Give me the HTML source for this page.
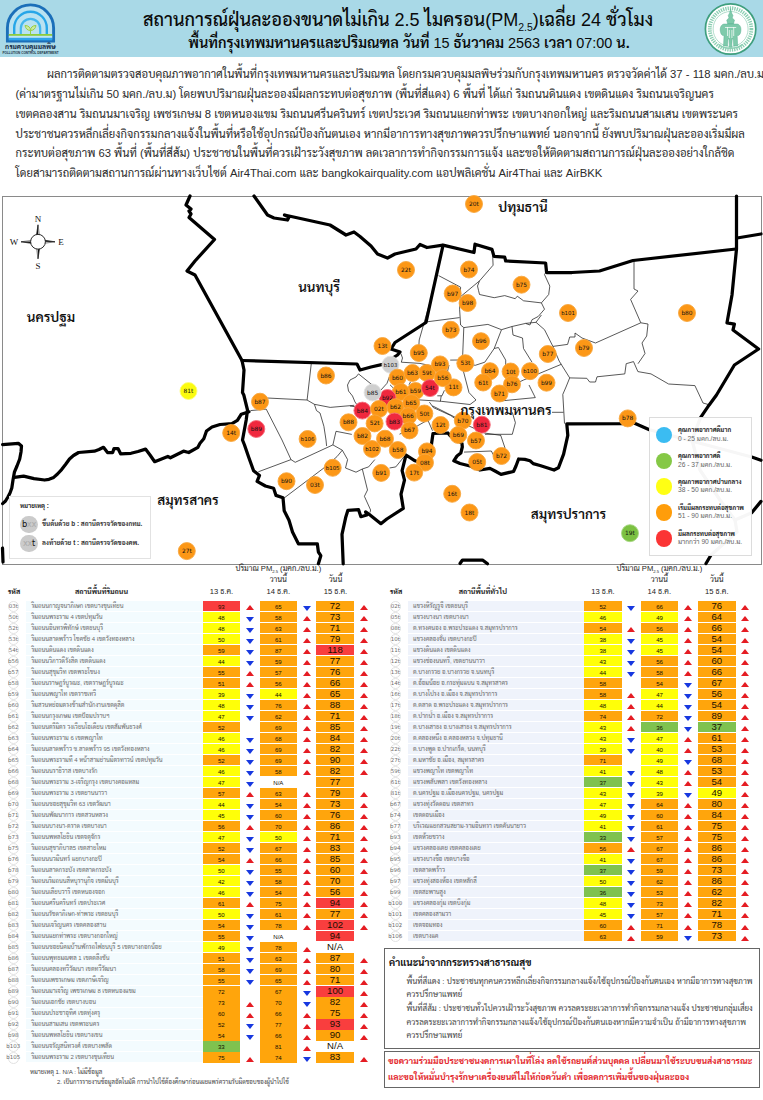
<!DOCTYPE html>
<html lang="th"><head><meta charset="utf-8"><title>PM2.5 Bangkok</title>
<style>
html,body{margin:0;padding:0;background:#fff}
#pg{position:relative;width:763px;height:1100px;overflow:hidden;background:#fff;font-family:"Liberation Sans","Sarabun","Noto Sans Thai","Loma","Noto Sans CJK SC",sans-serif;color:#111}
#pg div{position:absolute;white-space:nowrap;line-height:1}
.hd{left:0;top:0;width:763px;height:57.3px;background:#a9d9e7}
.t1{left:0;width:763px;text-align:center;font-weight:600;color:#0a0a0a}
.n{font-weight:400}
.p{left:15.5px;font-size:11.28px;color:#2b2b2b;letter-spacing:0}
.prov{font-weight:600;font-size:13.4px;color:#111;transform:translate(-50%,-50%)}
.rb{height:10px}
.cd{width:22px;text-align:center;font-family:"DejaVu Sans","Liberation Sans",sans-serif;font-size:5.5px;color:#6e6e6e;height:10px;line-height:10px!important}
.nm{font-size:5.96px;color:#6a6a6a;height:10px;line-height:10px!important}
.c{height:10.3px;line-height:11.2px!important;text-align:center;font-size:6.1px;color:#151000;width:37.5px}
.c3{font-size:9.6px;color:#1a1000;width:38px;line-height:10.6px!important}
.o{background:#ffa50c}.y{background:#ffff08}.r{background:#f93e3e}.gn{background:#7fc24f}.na{background:#fff}
.th{font-weight:bold;font-size:7.15px;color:#222;transform:translate(-50%,-50%)}
.th2{font-size:7.6px;color:#222;transform:translate(-50%,-50%)}
.lg1{font-weight:bold;font-size:6.2px;color:#222}
.lg2{font-size:6.65px;color:#666}
.adv{font-size:7.96px;color:#444}
.red{font-size:8.68px;font-weight:bold;color:#e3262b}
.fn{font-size:6.2px;color:#444}
svg{position:absolute;left:0;top:0}
svg text{font-family:"DejaVu Sans","Liberation Sans",sans-serif}
</style></head><body><div id="pg">
<div class="hd"></div>
<div class="t1" style="top:10.8px;left:16.5px;font-size:18.04px;font-weight:500">สถานการณ์ฝุ่นละอองขนาดไม่เกิน <span class="n">2.5</span> ไมครอน<span class="n">(PM<sub style="font-size:58%;vertical-align:-0.450em;line-height:0">2.5</sub>)</span>เฉลี่ย <span class="n">24</span> ชั่วโมง</div>
<div class="t1" style="top:35.5px;font-size:14.45px;left:27.5px">พื้นที่กรุงเทพมหานครและปริมณฑล วันที่ <span class="n">15</span> ธันวาคม <span class="n">2563</span> เวลา <span class="n">07:00</span> น.</div>
<div class="p" id="p0" style="left:47.0px;top:68.7px">ผลการติดตามตรวจสอบคุณภาพอากาศในพื้นที่กรุงเทพมหานครและปริมณฑล โดยกรมควบคุมมลพิษร่วมกับกรุงเทพมหานคร ตรวจวัดค่าได้ 37 - 118 มคก./ลบ.ม</div>
<div class="p" id="p1" style="left:15.5px;top:88.6px">(ค่ามาตรฐานไม่เกิน 50 มคก./ลบ.ม) โดยพบปริมาณฝุ่นละอองมีผลกระทบต่อสุขภาพ (พื้นที่สีแดง) 6 พื้นที่ ได้แก่ ริมถนนดินแดง เขตดินแดง ริมถนนเจริญนคร</div>
<div class="p" id="p2" style="left:15.5px;top:108.5px">เขตคลองสาน ริมถนนมาเจริญ เพชรเกษม 8 เขตหนองแขม ริมถนนศรีนครินทร์ เขตประเวศ ริมถนนแยกท่าพระ เขตบางกอกใหญ่ และริมถนนสามเสน เขตพระนคร</div>
<div class="p" id="p3" style="left:15.5px;top:128.5px">ประชาชนควรหลีกเลี่ยงกิจกรรมกลางแจ้งในพื้นที่หรือใช้อุปกรณ์ป้องกันตนเอง หากมีอาการทางสุขภาพควรปรึกษาแพทย์ นอกจากนี้ ยังพบปริมาณฝุ่นละอองเริ่มมีผล</div>
<div class="p" id="p4" style="left:15.5px;top:148.4px">กระทบต่อสุขภาพ 63 พื้นที่ (พื้นที่สีส้ม) ประชาชนในพื้นที่ควรเฝ้าระวังสุขภาพ ลดเวลาการทำกิจกรรมการแจ้ง และขอให้ติดตามสถานการณ์ฝุ่นละอองอย่างใกล้ชิด</div>
<div class="p" id="p5" style="left:15.5px;top:168.3px">โดยสามารถติดตามสถานการณ์ผ่านทางเว็บไซต์ Air4Thai.com และ bangkokairquality.com แอปพลิเคชั่น Air4Thai และ AirBKK</div>
<div style="left:1.5px;top:195.8px;width:758.400px;height:367px;border:1.300px solid #8a8a8a;box-sizing:content-box"></div>
<svg width="763" height="1100" viewBox="0 0 763 1100">
<g id="pcd">
<path d="M7.4,41 V28 A23.100,23.100 0 0 1 53.600,28 V41 Z" fill="#b9e2f1" stroke="#1b6fb9" stroke-width="2.900" stroke-linejoin="miter"/>
<path d="M14.200,34.500 V28 A16.300,16.300 0 0 1 46.800,28 V34.500" fill="none" stroke="#27a6e8" stroke-width="2.400"/>
<path d="M20.800,34.500 V28.500 A9.700,9.700 0 0 1 40.200,28.500 V34.500" fill="none" stroke="#43b7ee" stroke-width="2.200"/>
<rect x="8.800" y="36.200" width="43.400" height="1.500" fill="#bfe6f6"/>
<rect x="8.800" y="37.800" width="43.400" height="2.600" fill="#2fa5ea"/>
<rect x="8.800" y="34" width="43.400" height="1.800" fill="#8fcb3e"/>
<path d="M30.500,34.500 V30 M30.500,30.500 C27.500,30.500 25.500,28.500 25,25.500 C28.500,25.500 30.500,27.500 30.500,30.500 M30.500,30.500 C33.500,30.500 35.500,28.500 36,25.500 C32.500,25.500 30.500,27.500 30.500,30.500" fill="#cfe9a0" stroke="#98cf45" stroke-width="1"/>
</g>
<g id="bma">
<circle cx="730.600" cy="29" r="25.200" fill="#ffffff" stroke="#3f9f7e" stroke-width="1.700"/>
<circle cx="730.600" cy="29" r="20.800" fill="none" stroke="#8ccfb3" stroke-width="3.800" stroke-dasharray="1.300 1"/>
<circle cx="730.600" cy="29" r="17.500" fill="#ffffff" stroke="#7cc6a8" stroke-width="0.600"/>
<g fill="#7fcaab" stroke="#4aa888" stroke-width="0.400">
<path d="M730.600,8.500 L731.600,13 L733,15.500 L732.200,18 L734.500,20 L733.500,24 L727.700,24 L726.700,20 L729,18 L728.200,15.500 L729.600,13 Z"/>
<path d="M724,24 C721,24.500 719.500,28 720.500,32 C721,35 723,36 724,35.500 L723.500,46 L727.500,46 L728,39 L729,39 L729.500,47.500 L731.700,47.500 L732.200,39 L733.200,39 L733.700,46 L737.700,46 L737.200,35.500 C738.200,36 740.200,35 740.700,32 C741.700,28 740.200,24.500 737.200,24 Z"/>
</g>
<path d="M727.500,27 L727.500,36 M733.700,27 L733.700,36 M729.300,30 L729.300,38 M731.900,30 L731.900,38 M725,27.500 L736.200,27.500" fill="none" stroke="#ffffff" stroke-width="0.700"/>
<path d="M719,44.500 C724,49.500 737,49.500 742.200,44.500" fill="none" stroke="#8ccfb3" stroke-width="1.600"/>
</g>
<polyline points="438.6,275.6 460.6,287.2 459.6,309.2 460.6,325.0 463.8,327.6 462.7,354.8 462.7,368.5 469.0,392.6 476.0,400.0" fill="none" stroke="#222" stroke-width="0.75" stroke-linejoin="round"/>
<polyline points="492.5,252.0 493.1,265.2 479.5,280.9 460.6,296.6" fill="none" stroke="#222" stroke-width="0.75" stroke-linejoin="round"/>
<polyline points="479.5,280.9 477.5,286.0 478.5,290.3 479.5,294.5 494.2,297.7 504.7,295.6 515.2,298.7 517.3,296.2 523.6,300.8 541.4,302.9 548.7,294.5 549.8,286.1 544.5,274.6 546.0,272.0" fill="none" stroke="#222" stroke-width="0.75" stroke-linejoin="round"/>
<polyline points="541.4,302.9 544.5,309.2 538.2,316.5 532.0,319.7 529.9,325.0 525.6,323.4" fill="none" stroke="#222" stroke-width="0.75" stroke-linejoin="round"/>
<polyline points="427.0,321.8 459.6,317.6" fill="none" stroke="#222" stroke-width="0.75" stroke-linejoin="round"/>
<polyline points="463.8,327.6 487.9,324.4 501.5,329.7 512.0,326.5 525.6,323.4 536.0,322.3 541.4,315.0" fill="none" stroke="#222" stroke-width="0.75" stroke-linejoin="round"/>
<polyline points="501.5,329.7 494.2,348.5 484.8,362.2 475.3,365.3 462.7,363.0" fill="none" stroke="#222" stroke-width="0.75" stroke-linejoin="round"/>
<polyline points="512.0,326.5 513.0,335.0 522.5,338.0 523.5,348.5 532.0,362.2" fill="none" stroke="#222" stroke-width="0.75" stroke-linejoin="round"/>
<polyline points="536.0,322.3 544.5,329.7 552.9,346.4 559.2,361.1 569.7,377.9 566.0,387.0 562.8,394.4 564.5,423.6" fill="none" stroke="#222" stroke-width="0.75" stroke-linejoin="round"/>
<polyline points="552.9,346.4 567.6,344.4 569.7,337.0 575.0,337.0 575.0,333.0 582.0,338.0 595.5,343.0 640.8,322.8 630.6,299.4 638.0,291.0 634.0,289.0 634.0,261.0" fill="none" stroke="#222" stroke-width="0.75" stroke-linejoin="round"/>
<polyline points="561.3,364.3 523.6,380.0 496.3,392.6" fill="none" stroke="#222" stroke-width="0.75" stroke-linejoin="round"/>
<polyline points="569.7,377.9 586.8,378.3 589.7,382.0 595.5,382.0 597.0,376.8 624.8,373.9 626.2,363.7 633.5,361.6 637.9,371.6 651.0,373.9 668.6,384.0 694.9,385.6 699.3,395.0 703.0,403.0 709.0,404.7" fill="none" stroke="#222" stroke-width="0.75" stroke-linejoin="round"/>
<polyline points="640.8,322.8 648.0,324.0 646.7,336.0 642.0,343.0 645.0,353.5 638.0,363.7" fill="none" stroke="#222" stroke-width="0.75" stroke-linejoin="round"/>
<polyline points="494.2,348.5 498.4,347.5 505.7,360.1 505.7,368.0" fill="none" stroke="#222" stroke-width="0.75" stroke-linejoin="round"/>
<polyline points="450.2,360.1 458.5,360.0" fill="none" stroke="#222" stroke-width="0.75" stroke-linejoin="round"/>
<polyline points="311.3,363.4 307.1,400.0" fill="none" stroke="#222" stroke-width="0.75" stroke-linejoin="round"/>
<polyline points="267.3,398.0 307.0,400.0 314.4,404.3 330.2,407.4 354.3,405.3" fill="none" stroke="#222" stroke-width="0.75" stroke-linejoin="round"/>
<polyline points="314.4,404.3 316.5,410.6 320.0,413.0 323.9,426.3 326.0,440.0 326.6,446.0" fill="none" stroke="#222" stroke-width="0.75" stroke-linejoin="round"/>
<polyline points="250.5,410.6 266.2,409.1 282.0,440.0 291.0,459.6 295.2,462.3 332.9,444.9 342.3,450.2 347.6,459.6 345.5,468.0 356.0,472.2 362.3,469.0 368.6,466.9 374.8,459.6" fill="none" stroke="#222" stroke-width="0.75" stroke-linejoin="round"/>
<polyline points="258.3,471.8 291.0,459.6" fill="none" stroke="#222" stroke-width="0.75" stroke-linejoin="round"/>
<polyline points="283.6,498.4 326.6,465.9 337.1,456.5 342.3,450.2" fill="none" stroke="#222" stroke-width="0.75" stroke-linejoin="round"/>
<polyline points="362.3,469.0 367.5,490.0 364.4,496.3 370.6,510.0 370.0,512.5" fill="none" stroke="#222" stroke-width="0.75" stroke-linejoin="round"/>
<polyline points="332.9,444.9 336.0,431.3 351.8,434.4" fill="none" stroke="#222" stroke-width="0.75" stroke-linejoin="round"/>
<polyline points="358.5,373.9 356.0,377.0 350.0,380.0 347.5,385.0 348.5,391.0 352.5,396.0 355.0,402.0 357.4,405.3" fill="none" stroke="#222" stroke-width="0.75" stroke-linejoin="round"/>
<polyline points="358.5,373.9 374.2,386.5" fill="none" stroke="#222" stroke-width="0.75" stroke-linejoin="round"/>
<polyline points="389.5,468.0 395.8,466.9 404.2,456.5" fill="none" stroke="#222" stroke-width="0.75" stroke-linejoin="round"/>
<polyline points="512.3,412.3 515.4,422.7 512.3,434.3 485.0,434.3" fill="none" stroke="#222" stroke-width="0.75" stroke-linejoin="round"/>
<polyline points="552.0,412.3 563.5,412.3" fill="none" stroke="#222" stroke-width="0.75" stroke-linejoin="round"/>
<polyline points="500.7,435.3 505.0,448.0" fill="none" stroke="#222" stroke-width="0.75" stroke-linejoin="round"/>
<polyline points="464.0,452.1 491.3,451.0 494.0,456.0" fill="none" stroke="#222" stroke-width="0.75" stroke-linejoin="round"/>
<polyline points="529.0,385.0 535.3,397.6 500.0,401.0" fill="none" stroke="#222" stroke-width="0.75" stroke-linejoin="round"/>
<polyline points="432.0,295.0 419.2,340.0 418.5,352.0 419.2,361.2" fill="none" stroke="#222" stroke-width="0.75" stroke-linejoin="round"/>
<polyline points="400.9,353.6 402.5,358.0 401.3,362.2 420.0,363.4 432.0,366.0" fill="none" stroke="#222" stroke-width="0.75" stroke-linejoin="round"/>
<polyline points="449.0,365.0 447.5,371.5" fill="none" stroke="#222" stroke-width="0.75" stroke-linejoin="round"/>
<polyline points="389.3,377.0 387.0,383.3 380.7,390.3 374.2,386.5" fill="none" stroke="#222" stroke-width="0.75" stroke-linejoin="round"/>
<polyline points="390.0,384.8 393.3,388.0" fill="none" stroke="#222" stroke-width="0.75" stroke-linejoin="round"/>
<polyline points="410.6,381.7 409.0,384.8" fill="none" stroke="#222" stroke-width="0.75" stroke-linejoin="round"/>
<polyline points="437.3,395.8 442.0,395.8 444.4,390.3" fill="none" stroke="#222" stroke-width="0.75" stroke-linejoin="round"/>
<polyline points="417.6,399.8 441.2,401.3 470.0,404.5 476.0,400.0" fill="none" stroke="#222" stroke-width="0.75" stroke-linejoin="round"/>
<polyline points="441.2,395.8 440.4,401.3" fill="none" stroke="#222" stroke-width="0.75" stroke-linejoin="round"/>
<polyline points="429.4,402.1 433.4,407.6 450.7,415.5 457.0,420.0" fill="none" stroke="#222" stroke-width="0.75" stroke-linejoin="round"/>
<polyline points="350.0,406.0 355.5,406.8" fill="none" stroke="#222" stroke-width="0.75" stroke-linejoin="round"/>
<polyline points="432.5,405.9 442.0,410.6 456.0,417.7" fill="none" stroke="#222" stroke-width="0.75" stroke-linejoin="round"/>
<polyline points="469.0,426.0 484.4,433.0 501.0,435.4" fill="none" stroke="#222" stroke-width="0.75" stroke-linejoin="round"/>
<polyline points="427.8,420.0 432.5,430.7" fill="none" stroke="#222" stroke-width="0.75" stroke-linejoin="round"/>
<polyline points="399.5,434.2 417.2,426.0 427.8,420.0" fill="none" stroke="#222" stroke-width="0.75" stroke-linejoin="round"/>
<polyline points="190.0,196.0 186.0,205.0 191.0,209.0 189.0,211.0 191.0,214.0 189.0,217.5 214.5,239.5 195.0,261.0 187.0,271.0 195.0,275.0 206.0,295.0 242.0,360.5 244.0,370.0 242.5,392.5 243.8,395.0 247.5,410.0 246.2,420.0 242.5,440.0 244.5,445.0 248.8,457.5 253.6,470.7 259.5,475.4 257.1,481.3 265.4,486.0 273.6,488.3 276.0,495.4 283.0,497.8 284.2,510.8 289.0,520.2 292.5,532.0 298.4,543.8 317.3,543.8 318.4,552.0 320.8,555.7 318.4,563.8" fill="none" stroke="#000" stroke-width="3.25" stroke-linejoin="round" stroke-linecap="round"/>
<polyline points="249.0,411.8 241.3,414.2 237.4,420.4 231.9,423.6 220.0,424.5 212.0,427.0 206.5,431.0 203.8,438.8 200.0,443.3 197.9,447.3 188.7,452.5 183.5,451.2 170.4,457.8 167.8,456.5 154.7,461.7 150.0,455.0 145.5,449.1 138.0,451.5 131.0,453.3 120.6,453.8 118.0,448.6 114.0,448.6 112.7,452.5 107.5,452.5 103.5,447.3 99.0,449.5 94.4,451.2 78.6,452.5 73.5,455.5 69.5,459.0 65.5,464.5 61.6,469.6 57.5,474.0 53.7,477.4 49.0,479.3 44.6,480.0 34.0,478.7 23.6,476.1 14.4,477.4" fill="none" stroke="#000" stroke-width="3.25" stroke-linejoin="round" stroke-linecap="round"/>
<polyline points="2.6,444.7 18.3,443.3 21.5,446.0 21.0,452.0 19.7,459.0 17.0,466.0 14.4,472.2 13.0,480.0 11.8,488.0 10.0,493.0 7.9,497.0 5.5,501.0 2.6,503.6" fill="none" stroke="#000" stroke-width="3.25" stroke-linejoin="round" stroke-linecap="round"/>
<polyline points="2.5,548.0 3.0,562.0" fill="none" stroke="#000" stroke-width="3.25" stroke-linejoin="round" stroke-linecap="round"/>
<polyline points="254.0,196.0 267.5,215.0 274.0,218.0 287.5,220.0 289.0,217.0 284.5,215.0 330.0,225.0 346.0,235.0 354.0,232.0 360.0,236.5 371.0,246.0 377.5,254.0 387.5,258.0 395.0,254.0 416.0,249.0 420.0,244.5 427.0,247.5 443.0,245.2 474.0,252.5 475.0,244.2 492.0,249.4 494.0,256.4 504.7,257.2 505.7,261.0 545.6,263.0 546.6,272.5 572.0,272.5 599.5,271.0 633.0,260.5 736.0,249.0" fill="none" stroke="#000" stroke-width="3.25" stroke-linejoin="round" stroke-linecap="round"/>
<polyline points="443.0,245.5 432.0,295.0 426.0,322.5 395.0,342.5 391.0,349.0 400.0,352.0 397.5,355.0 382.6,364.4 371.0,367.0 360.0,370.0 357.0,364.0 242.0,360.5" fill="none" stroke="#000" stroke-width="3.25" stroke-linejoin="round" stroke-linecap="round"/>
<polyline points="736.5,196.0 736.5,249.0 732.0,295.0 727.0,322.8 734.4,324.2 733.0,330.0 758.6,349.0 734.4,365.0 716.5,395.0 709.0,405.2 700.5,417.6 692.0,440.0 700.0,470.0 720.0,500.0 735.0,520.0 737.0,532.0 711.0,555.0 706.0,563.5" fill="none" stroke="#000" stroke-width="3.25" stroke-linejoin="round" stroke-linecap="round"/>
<polyline points="737.0,238.0 761.0,234.0" fill="none" stroke="#000" stroke-width="3.25" stroke-linejoin="round" stroke-linecap="round"/>
<polyline points="735.0,520.0 751.7,512.7 761.0,501.4" fill="none" stroke="#000" stroke-width="3.25" stroke-linejoin="round" stroke-linecap="round"/>
<polyline points="761.0,460.3 751.7,457.0 649.4,429.7 633.5,422.8 621.8,423.6 566.8,423.8 567.8,435.3 563.6,454.2 558.4,467.8 554.0,470.0 540.0,465.5 533.2,463.6 530.0,460.8 524.8,459.4 518.6,459.0 516.0,466.0 513.5,471.5 501.0,474.3 495.0,471.0 490.0,468.4 480.0,470.0 470.0,466.0 460.0,463.5 453.8,460.8 457.0,456.0 460.8,453.0 462.3,447.0 462.0,443.6 458.8,441.0 450.0,435.5 447.9,433.0 433.0,433.5 431.5,444.0 431.0,455.0 425.0,464.0 415.0,460.8 406.0,455.0 402.1,470.7 404.5,480.1 401.0,494.2 403.3,508.4 386.8,519.0 380.9,523.7 369.1,514.3 365.6,511.9 366.8,515.0 360.9,516.7 358.5,509.6 347.9,510.3 345.6,517.8 342.0,534.3 343.2,563.8" fill="none" stroke="#000" stroke-width="3.25" stroke-linejoin="round" stroke-linecap="round"/>
<polyline points="460.0,563.5 462.5,560.0 482.5,560.0 487.5,563.8" fill="none" stroke="#000" stroke-width="3.25" stroke-linejoin="round" stroke-linecap="round"/>
<g stroke="#111" stroke-width="0.45" stroke-linejoin="miter">
<path d="M38.0,224.8 l1.500,10.500 l-3,0 z M38.0,258.8 l1.500,-10.500 l-3,0 z M21.0,241.8 l10.500,-1.500 l0,3 z M55.0,241.8 l-10.500,-1.500 l0,3 z" fill="#fff"/>
<path d="M38.0,224.8 l0,10.500 l-1.500,0 z M38.0,258.8 l0,-10.500 l1.500,0 z M21.0,241.8 l10.500,0 l0,1.500 z M55.0,241.8 l-10.500,0 l0,-1.500 z" fill="#111"/>
<circle cx="38.0" cy="241.75" r="7.400" fill="#fff" stroke-width="0.9"/>
</g>
<g font-size="9" text-anchor="middle" fill="#111"><text style="font-family:'Liberation Serif',serif" x="38" y="222.300">N</text><text style="font-family:'Liberation Serif',serif" x="38" y="268.800">S</text><text style="font-family:'Liberation Serif',serif" x="14" y="245">W</text><text style="font-family:'Liberation Serif',serif" x="61" y="245">E</text></g>
<circle cx="474.0" cy="204.0" r="8.5" fill="#fc9716" stroke="#f7a740" stroke-width="0.9"/>
<text x="474.0" y="206.0" font-size="5.9" text-anchor="middle" fill="#111">20t</text>
<circle cx="406.0" cy="270.0" r="8.5" fill="#fc9716" stroke="#f7a740" stroke-width="0.9"/>
<text x="406.0" y="272.0" font-size="5.9" text-anchor="middle" fill="#111">22t</text>
<circle cx="469.0" cy="269.5" r="8.5" fill="#fc9716" stroke="#f7a740" stroke-width="0.9"/>
<text x="469.0" y="271.5" font-size="5.9" text-anchor="middle" fill="#111">b74</text>
<circle cx="521.5" cy="284.7" r="8.5" fill="#fc9716" stroke="#f7a740" stroke-width="0.9"/>
<text x="521.5" y="286.7" font-size="5.9" text-anchor="middle" fill="#111">b75</text>
<circle cx="452.7" cy="293.5" r="8.5" fill="#fc9716" stroke="#f7a740" stroke-width="0.9"/>
<text x="452.7" y="295.5" font-size="5.9" text-anchor="middle" fill="#111">b97</text>
<circle cx="467.6" cy="303.0" r="8.5" fill="#fc9716" stroke="#f7a740" stroke-width="0.9"/>
<text x="467.6" y="305.0" font-size="5.9" text-anchor="middle" fill="#111">b98</text>
<circle cx="568.0" cy="313.0" r="8.5" fill="#fc9716" stroke="#f7a740" stroke-width="0.9"/>
<text x="568.0" y="315.0" font-size="5.4" text-anchor="middle" fill="#111">b101</text>
<circle cx="687.0" cy="313.0" r="8.5" fill="#fc9716" stroke="#f7a740" stroke-width="0.9"/>
<text x="687.0" y="315.0" font-size="5.9" text-anchor="middle" fill="#111">b80</text>
<circle cx="450.8" cy="329.8" r="8.5" fill="#fc9716" stroke="#f7a740" stroke-width="0.9"/>
<text x="450.8" y="331.8" font-size="5.9" text-anchor="middle" fill="#111">b73</text>
<circle cx="481.0" cy="341.2" r="8.5" fill="#fc9716" stroke="#f7a740" stroke-width="0.9"/>
<text x="481.0" y="343.2" font-size="5.9" text-anchor="middle" fill="#111">b96</text>
<circle cx="382.5" cy="346.0" r="8.5" fill="#fc9716" stroke="#f7a740" stroke-width="0.9"/>
<text x="382.5" y="348.0" font-size="5.9" text-anchor="middle" fill="#111">13t</text>
<circle cx="418.8" cy="353.0" r="8.5" fill="#fc9716" stroke="#f7a740" stroke-width="0.9"/>
<text x="418.8" y="355.0" font-size="5.9" text-anchor="middle" fill="#111">b95</text>
<circle cx="390.5" cy="364.7" r="8.5" fill="#cfcfcf" stroke="#e2e2e2" stroke-width="0.9"/>
<text x="390.5" y="366.7" font-size="5.4" text-anchor="middle" fill="#111">b103</text>
<circle cx="465.3" cy="363.2" r="8.5" fill="#fc9716" stroke="#f7a740" stroke-width="0.9"/>
<text x="465.3" y="365.2" font-size="5.9" text-anchor="middle" fill="#111">53t</text>
<circle cx="547.8" cy="354.0" r="8.5" fill="#fc9716" stroke="#f7a740" stroke-width="0.9"/>
<text x="547.8" y="356.0" font-size="5.9" text-anchor="middle" fill="#111">b77</text>
<circle cx="584.0" cy="348.0" r="8.5" fill="#fc9716" stroke="#f7a740" stroke-width="0.9"/>
<text x="584.0" y="350.0" font-size="5.9" text-anchor="middle" fill="#111">b79</text>
<circle cx="397.5" cy="377.7" r="8.5" fill="#fc9716" stroke="#f7a740" stroke-width="0.9"/>
<text x="397.5" y="379.7" font-size="5.9" text-anchor="middle" fill="#111">b60</text>
<circle cx="412.5" cy="373.0" r="8.5" fill="#fc9716" stroke="#f7a740" stroke-width="0.9"/>
<text x="412.5" y="375.0" font-size="5.9" text-anchor="middle" fill="#111">b63</text>
<circle cx="427.0" cy="373.0" r="8.5" fill="#fc9716" stroke="#f7a740" stroke-width="0.9"/>
<text x="427.0" y="375.0" font-size="5.9" text-anchor="middle" fill="#111">59t</text>
<circle cx="440.0" cy="364.4" r="8.5" fill="#fc9716" stroke="#f7a740" stroke-width="0.9"/>
<text x="440.0" y="366.4" font-size="5.9" text-anchor="middle" fill="#111">b93</text>
<circle cx="490.0" cy="371.2" r="8.5" fill="#fc9716" stroke="#f7a740" stroke-width="0.9"/>
<text x="490.0" y="373.2" font-size="5.9" text-anchor="middle" fill="#111">b64</text>
<circle cx="510.6" cy="371.5" r="8.5" fill="#fc9716" stroke="#f7a740" stroke-width="0.9"/>
<text x="510.6" y="373.5" font-size="5.9" text-anchor="middle" fill="#111">10t</text>
<circle cx="530.0" cy="371.2" r="8.5" fill="#fc9716" stroke="#f7a740" stroke-width="0.9"/>
<text x="530.0" y="373.2" font-size="5.4" text-anchor="middle" fill="#111">b100</text>
<circle cx="483.2" cy="382.5" r="8.5" fill="#fc9716" stroke="#f7a740" stroke-width="0.9"/>
<text x="483.2" y="384.5" font-size="5.9" text-anchor="middle" fill="#111">61t</text>
<circle cx="512.0" cy="384.3" r="8.5" fill="#fc9716" stroke="#f7a740" stroke-width="0.9"/>
<text x="512.0" y="386.3" font-size="5.9" text-anchor="middle" fill="#111">b76</text>
<circle cx="546.5" cy="382.7" r="8.5" fill="#fc9716" stroke="#f7a740" stroke-width="0.9"/>
<text x="546.5" y="384.7" font-size="5.9" text-anchor="middle" fill="#111">b99</text>
<circle cx="453.5" cy="387.4" r="8.5" fill="#fc9716" stroke="#f7a740" stroke-width="0.9"/>
<text x="453.5" y="389.4" font-size="5.9" text-anchor="middle" fill="#111">11t</text>
<circle cx="415.5" cy="391.0" r="8.5" fill="#fc9716" stroke="#f7a740" stroke-width="0.9"/>
<text x="415.5" y="393.0" font-size="5.9" text-anchor="middle" fill="#111">b59</text>
<circle cx="400.8" cy="392.0" r="8.5" fill="#fc9716" stroke="#f7a740" stroke-width="0.9"/>
<text x="400.8" y="394.0" font-size="5.9" text-anchor="middle" fill="#111">b61</text>
<circle cx="387.5" cy="398.0" r="8.5" fill="#f0283e" stroke="#f5707f" stroke-width="0.9"/>
<text x="387.5" y="400.0" font-size="5.9" text-anchor="middle" fill="#111">b92</text>
<circle cx="372.6" cy="392.5" r="8.5" fill="#cfcfcf" stroke="#e2e2e2" stroke-width="0.9"/>
<text x="372.6" y="394.5" font-size="5.9" text-anchor="middle" fill="#111">b85</text>
<circle cx="430.0" cy="388.1" r="8.5" fill="#f0283e" stroke="#f5707f" stroke-width="0.9"/>
<text x="430.0" y="390.1" font-size="5.9" text-anchor="middle" fill="#111">54t</text>
<circle cx="442.8" cy="378.1" r="8.5" fill="#fc9716" stroke="#f7a740" stroke-width="0.9"/>
<text x="442.8" y="380.1" font-size="5.9" text-anchor="middle" fill="#111">b56</text>
<circle cx="499.5" cy="393.5" r="8.5" fill="#fc9716" stroke="#f7a740" stroke-width="0.9"/>
<text x="499.5" y="395.5" font-size="5.9" text-anchor="middle" fill="#111">b71</text>
<circle cx="326.0" cy="375.5" r="8.5" fill="#fc9716" stroke="#f7a740" stroke-width="0.9"/>
<text x="326.0" y="377.5" font-size="5.9" text-anchor="middle" fill="#111">b86</text>
<circle cx="188.5" cy="391.0" r="8.5" fill="#fbfb10" stroke="#fdfd80" stroke-width="0.9"/>
<text x="188.5" y="393.0" font-size="5.9" text-anchor="middle" fill="#111">81t</text>
<circle cx="260.0" cy="401.7" r="8.5" fill="#fc9716" stroke="#f7a740" stroke-width="0.9"/>
<text x="260.0" y="403.7" font-size="5.9" text-anchor="middle" fill="#111">b87</text>
<circle cx="231.2" cy="433.0" r="8.5" fill="#fc9716" stroke="#f7a740" stroke-width="0.9"/>
<text x="231.2" y="435.0" font-size="5.9" text-anchor="middle" fill="#111">14t</text>
<circle cx="256.3" cy="429.0" r="8.5" fill="#f0283e" stroke="#f5707f" stroke-width="0.9"/>
<text x="256.3" y="431.0" font-size="5.9" text-anchor="middle" fill="#111">b89</text>
<circle cx="307.6" cy="439.0" r="8.5" fill="#fc9716" stroke="#f7a740" stroke-width="0.9"/>
<text x="307.6" y="441.0" font-size="5.4" text-anchor="middle" fill="#111">b106</text>
<circle cx="348.5" cy="422.3" r="8.5" fill="#fc9716" stroke="#f7a740" stroke-width="0.9"/>
<text x="348.5" y="424.3" font-size="5.9" text-anchor="middle" fill="#111">b88</text>
<circle cx="362.4" cy="410.6" r="8.5" fill="#f0283e" stroke="#f5707f" stroke-width="0.9"/>
<text x="362.4" y="412.6" font-size="5.9" text-anchor="middle" fill="#111">b84</text>
<circle cx="379.0" cy="409.0" r="8.5" fill="#fc9716" stroke="#f7a740" stroke-width="0.9"/>
<text x="379.0" y="411.0" font-size="5.9" text-anchor="middle" fill="#111">02t</text>
<circle cx="395.5" cy="407.2" r="8.5" fill="#fc9716" stroke="#f7a740" stroke-width="0.9"/>
<text x="395.5" y="409.2" font-size="5.9" text-anchor="middle" fill="#111">b62</text>
<circle cx="411.2" cy="403.0" r="8.5" fill="#fc9716" stroke="#f7a740" stroke-width="0.9"/>
<text x="411.2" y="405.0" font-size="5.9" text-anchor="middle" fill="#111">b65</text>
<circle cx="424.4" cy="413.5" r="8.5" fill="#fc9716" stroke="#f7a740" stroke-width="0.9"/>
<text x="424.4" y="415.5" font-size="5.9" text-anchor="middle" fill="#111">50t</text>
<circle cx="408.2" cy="416.2" r="8.5" fill="#fc9716" stroke="#f7a740" stroke-width="0.9"/>
<text x="408.2" y="418.2" font-size="5.9" text-anchor="middle" fill="#111">b66</text>
<circle cx="394.5" cy="421.5" r="8.5" fill="#f0283e" stroke="#f5707f" stroke-width="0.9"/>
<text x="394.5" y="423.5" font-size="5.9" text-anchor="middle" fill="#111">b83</text>
<circle cx="374.6" cy="423.4" r="8.5" fill="#fc9716" stroke="#f7a740" stroke-width="0.9"/>
<text x="374.6" y="425.4" font-size="5.9" text-anchor="middle" fill="#111">52t</text>
<circle cx="409.5" cy="430.4" r="8.5" fill="#fc9716" stroke="#f7a740" stroke-width="0.9"/>
<text x="409.5" y="432.4" font-size="5.9" text-anchor="middle" fill="#111">b67</text>
<circle cx="440.5" cy="425.0" r="8.5" fill="#fc9716" stroke="#f7a740" stroke-width="0.9"/>
<text x="440.5" y="427.0" font-size="5.9" text-anchor="middle" fill="#111">12t</text>
<circle cx="462.8" cy="420.6" r="8.5" fill="#fc9716" stroke="#f7a740" stroke-width="0.9"/>
<text x="462.8" y="422.6" font-size="5.9" text-anchor="middle" fill="#111">b70</text>
<circle cx="481.8" cy="424.7" r="8.5" fill="#f0283e" stroke="#f5707f" stroke-width="0.9"/>
<text x="481.8" y="426.7" font-size="5.9" text-anchor="middle" fill="#111">b81</text>
<circle cx="458.3" cy="435.0" r="8.5" fill="#fc9716" stroke="#f7a740" stroke-width="0.9"/>
<text x="458.3" y="437.0" font-size="5.9" text-anchor="middle" fill="#111">b69</text>
<circle cx="476.0" cy="440.5" r="8.5" fill="#fc9716" stroke="#f7a740" stroke-width="0.9"/>
<text x="476.0" y="442.5" font-size="5.9" text-anchor="middle" fill="#111">b57</text>
<circle cx="362.5" cy="436.0" r="8.5" fill="#fc9716" stroke="#f7a740" stroke-width="0.9"/>
<text x="362.5" y="438.0" font-size="5.9" text-anchor="middle" fill="#111">b82</text>
<circle cx="385.0" cy="438.7" r="8.5" fill="#fc9716" stroke="#f7a740" stroke-width="0.9"/>
<text x="385.0" y="440.7" font-size="5.9" text-anchor="middle" fill="#111">b68</text>
<circle cx="372.0" cy="449.0" r="8.5" fill="#fc9716" stroke="#f7a740" stroke-width="0.9"/>
<text x="372.0" y="451.0" font-size="5.4" text-anchor="middle" fill="#111">b102</text>
<circle cx="397.8" cy="450.1" r="8.5" fill="#fc9716" stroke="#f7a740" stroke-width="0.9"/>
<text x="397.8" y="452.1" font-size="5.9" text-anchor="middle" fill="#111">b58</text>
<circle cx="427.0" cy="451.4" r="8.5" fill="#fc9716" stroke="#f7a740" stroke-width="0.9"/>
<text x="427.0" y="453.4" font-size="5.9" text-anchor="middle" fill="#111">b94</text>
<circle cx="425.0" cy="462.6" r="8.5" fill="#fc9716" stroke="#f7a740" stroke-width="0.9"/>
<text x="425.0" y="464.6" font-size="5.9" text-anchor="middle" fill="#111">08t</text>
<circle cx="414.2" cy="472.6" r="8.5" fill="#fc9716" stroke="#f7a740" stroke-width="0.9"/>
<text x="414.2" y="474.6" font-size="5.9" text-anchor="middle" fill="#111">17t</text>
<circle cx="381.2" cy="472.9" r="8.5" fill="#fc9716" stroke="#f7a740" stroke-width="0.9"/>
<text x="381.2" y="474.9" font-size="5.9" text-anchor="middle" fill="#111">b91</text>
<circle cx="477.2" cy="462.1" r="8.5" fill="#fc9716" stroke="#f7a740" stroke-width="0.9"/>
<text x="477.2" y="464.1" font-size="5.9" text-anchor="middle" fill="#111">05t</text>
<circle cx="501.5" cy="456.0" r="8.5" fill="#fc9716" stroke="#f7a740" stroke-width="0.9"/>
<text x="501.5" y="458.0" font-size="5.9" text-anchor="middle" fill="#111">b72</text>
<circle cx="332.7" cy="467.8" r="8.5" fill="#fc9716" stroke="#f7a740" stroke-width="0.9"/>
<text x="332.7" y="469.8" font-size="5.4" text-anchor="middle" fill="#111">b105</text>
<circle cx="286.5" cy="481.2" r="8.5" fill="#fc9716" stroke="#f7a740" stroke-width="0.9"/>
<text x="286.5" y="483.2" font-size="5.9" text-anchor="middle" fill="#111">b90</text>
<circle cx="315.0" cy="485.0" r="8.5" fill="#fc9716" stroke="#f7a740" stroke-width="0.9"/>
<text x="315.0" y="487.0" font-size="5.9" text-anchor="middle" fill="#111">03t</text>
<circle cx="452.2" cy="493.8" r="8.5" fill="#fc9716" stroke="#f7a740" stroke-width="0.9"/>
<text x="452.2" y="495.8" font-size="5.9" text-anchor="middle" fill="#111">16t</text>
<circle cx="469.5" cy="512.5" r="8.5" fill="#fc9716" stroke="#f7a740" stroke-width="0.9"/>
<text x="469.5" y="514.5" font-size="5.9" text-anchor="middle" fill="#111">18t</text>
<circle cx="186.8" cy="551.1" r="8.5" fill="#fc9716" stroke="#f7a740" stroke-width="0.9"/>
<text x="186.8" y="553.1" font-size="5.9" text-anchor="middle" fill="#111">27t</text>
<circle cx="630.0" cy="533.2" r="8.5" fill="#7cc142" stroke="#a8d884" stroke-width="0.9"/>
<text x="630.0" y="535.2" font-size="5.9" text-anchor="middle" fill="#111">19t</text>
<circle cx="627.7" cy="418.4" r="8.5" fill="#fc9716" stroke="#f7a740" stroke-width="0.9"/>
<text x="627.7" y="420.4" font-size="5.9" text-anchor="middle" fill="#111">b78</text>
</svg>
<div class="prov" style="left:319.0px;top:287.5px">นนทบุรี</div>
<div class="prov" style="left:523.0px;top:208.0px">ปทุมธานี</div>
<div class="prov" style="left:51.0px;top:317.5px">นครปฐม</div>
<div class="prov" style="left:506.0px;top:410.5px">กรุงเทพมหานคร</div>
<div class="prov" style="left:188.0px;top:501.0px">สมุทรสาคร</div>
<div class="prov" style="left:568.5px;top:515.0px">สมุทรปราการ</div>
<div style="left:9px;top:496.300px;width:139.500px;height:61px;border:1px solid #e2e2e2;background:rgba(255,255,255,.9)"></div>
<div style="left:20px;top:503px;font-size:6.300px;font-weight:bold;color:#222">หมายเหตุ :</div>
<div style="left:20.200px;top:515.6px;width:17.600px;height:17.600px;border-radius:50%;background:#cbcbcb"></div>
<div style="left:20.200px;top:519.5px;width:17.600px;text-align:center;font-family:'DejaVu Sans',sans-serif;font-size:8.300px;letter-spacing:-0.300px;color:#111">b<span style="color:#aaa">xx</span></div>
<div style="left:42px;top:520.8px;font-size:6.400px;font-weight:bold;color:#333">ขึ้นต้นด้วย b : สถานีตรวจวัดของกทม.</div>
<div style="left:20.200px;top:534.9px;width:17.600px;height:17.600px;border-radius:50%;background:#cbcbcb"></div>
<div style="left:20.200px;top:538.8px;width:17.600px;text-align:center;font-family:'DejaVu Sans',sans-serif;font-size:8.300px;letter-spacing:-0.300px;color:#111"><span style="color:#aaa">xx</span>t</div>
<div style="left:42px;top:540.1px;font-size:6.400px;font-weight:bold;color:#333">ลงท้ายด้วย t : สถานีตรวจวัดของคพ.</div>
<div style="left:648.5px;top:416.700px;width:101px;height:137px;border:1px solid #dcdcdc;background:rgba(255,255,255,.965)"></div>
<div style="left:655.5px;top:426.6px;width:16.800px;height:16.800px;border-radius:50%;background:#3bbcf2"></div>
<div class="lg1" style="left:678px;top:427.1px">คุณภาพอากาศดีมาก</div>
<div class="lg2" style="left:678px;top:435.6px">0 - 25 มคก./ลบ.ม.</div>
<div style="left:655.5px;top:452.5px;width:16.800px;height:16.800px;border-radius:50%;background:#85c846"></div>
<div class="lg1" style="left:678px;top:453.0px">คุณภาพอากาศดี</div>
<div class="lg2" style="left:678px;top:461.5px">26 - 37 มคก./ลบ.ม.</div>
<div style="left:655.5px;top:478.4px;width:16.800px;height:16.800px;border-radius:50%;background:#ffff14"></div>
<div class="lg1" style="left:678px;top:478.9px">คุณภาพอากาศปานกลาง</div>
<div class="lg2" style="left:678px;top:487.4px">38 - 50 มคก./ลบ.ม.</div>
<div style="left:655.5px;top:504.2px;width:16.800px;height:16.800px;border-radius:50%;background:#ff9d0a"></div>
<div class="lg1" style="left:678px;top:504.7px">เริ่มมีผลกระทบต่อสุขภาพ</div>
<div class="lg2" style="left:678px;top:513.2px">51 - 90 มคก./ลบ.ม.</div>
<div style="left:655.5px;top:530.1px;width:16.800px;height:16.800px;border-radius:50%;background:#fb3535"></div>
<div class="lg1" style="left:678px;top:530.6px">มีผลกระทบต่อสุขภาพ</div>
<div class="lg2" style="left:678px;top:539.1px">มากกว่า 90 มคก./ลบ.ม.</div>
<div class="th2" style="left:278.3px;top:568.8px">ปริมาณ PM<sub style="font-size:55%;vertical-align:-0.400em;line-height:0">2.5</sub> (มคก./ลบ.ม.)</div>
<div class="th2" style="left:278.3px;top:580.3px">วานนี้</div>
<div class="th2" style="left:335.5px;top:580.3px">วันนี้</div>
<div class="th2" style="left:221.5px;top:592.1px">13 ธ.ค.</div>
<div class="th2" style="left:278.3px;top:592.1px">14 ธ.ค.</div>
<div class="th2" style="left:335.5px;top:592.1px">15 ธ.ค.</div>
<div class="th" style="left:14.0px;top:593px">รหัส</div>
<div class="th" style="left:101.5px;top:593px">สถานีพื้นที่ริมถนน</div>
<div class="th2" style="left:659.3px;top:568.8px">ปริมาณ PM<sub style="font-size:55%;vertical-align:-0.400em;line-height:0">2.5</sub> (มคก./ลบ.ม.)</div>
<div class="th2" style="left:659.3px;top:580.3px">วานนี้</div>
<div class="th2" style="left:716.8px;top:580.3px">วันนี้</div>
<div class="th2" style="left:603.0px;top:592.1px">13 ธ.ค.</div>
<div class="th2" style="left:659.3px;top:592.1px">14 ธ.ค.</div>
<div class="th2" style="left:716.8px;top:592.1px">15 ธ.ค.</div>
<div class="th" style="left:396.0px;top:593px">รหัส</div>
<div class="th" style="left:482.8px;top:593px">สถานีพื้นที่ทั่วไป</div>
<div class="rb" style="left:26.0px;top:600.7px;width:176.5px;background:#f3fbfe"></div>
<div style="left:8.1px;top:600.7px;width:9.200px;height:9.200px;border:0.600px solid #e2e2e2;border-radius:50%"></div>
<div class="cd" style="left:2.3px;top:600.7px">03t</div>
<div class="nm" style="left:31.4px;top:600.7px">ริมถนนกาญจนาภิเษก เขตบางขุนเทียน</div>
<div class="c r" style="left:202.6px;top:600.7px">93</div>
<div class="c o" style="left:259.6px;top:600.7px">65</div>
<div class="c o c3" style="left:316.1px;top:600.7px">72</div>
<div style="left:245.8px;top:605.0px;width:0;height:0;border-left:4.200px solid transparent;border-right:4.200px solid transparent;border-bottom:5.800px solid #e51c23"></div>
<div style="left:302.7px;top:605.6px;width:0;height:0;border-left:4.200px solid transparent;border-right:4.200px solid transparent;border-top:5.800px solid #1738e0"></div>
<div style="left:359.5px;top:605.0px;width:0;height:0;border-left:4.200px solid transparent;border-right:4.200px solid transparent;border-bottom:5.800px solid #e51c23"></div>
<div class="rb" style="left:26.0px;top:611.7px;width:176.5px;background:#f3fbfe"></div>
<div style="left:8.1px;top:611.7px;width:9.200px;height:9.200px;border:0.600px solid #e2e2e2;border-radius:50%"></div>
<div class="cd" style="left:2.3px;top:611.7px">50t</div>
<div class="nm" style="left:31.4px;top:611.7px">ริมถนนพระราม 4 เขตปทุมวัน</div>
<div class="c y" style="left:202.6px;top:611.7px">48</div>
<div class="c o" style="left:259.6px;top:611.7px">58</div>
<div class="c o c3" style="left:316.1px;top:611.7px">73</div>
<div style="left:245.8px;top:616.6px;width:0;height:0;border-left:4.200px solid transparent;border-right:4.200px solid transparent;border-top:5.800px solid #1738e0"></div>
<div style="left:302.7px;top:616.0px;width:0;height:0;border-left:4.200px solid transparent;border-right:4.200px solid transparent;border-bottom:5.800px solid #e51c23"></div>
<div style="left:359.5px;top:616.0px;width:0;height:0;border-left:4.200px solid transparent;border-right:4.200px solid transparent;border-bottom:5.800px solid #e51c23"></div>
<div class="rb" style="left:26.0px;top:622.7px;width:176.5px;background:#f3fbfe"></div>
<div style="left:8.1px;top:622.7px;width:9.200px;height:9.200px;border:0.600px solid #e2e2e2;border-radius:50%"></div>
<div class="cd" style="left:2.3px;top:622.7px">52t</div>
<div class="nm" style="left:31.4px;top:622.7px">ริมถนนอินทรพิทักษ์ เขตธนบุรี</div>
<div class="c y" style="left:202.6px;top:622.7px">48</div>
<div class="c o" style="left:259.6px;top:622.7px">63</div>
<div class="c o c3" style="left:316.1px;top:622.7px">71</div>
<div style="left:245.8px;top:627.6px;width:0;height:0;border-left:4.200px solid transparent;border-right:4.200px solid transparent;border-top:5.800px solid #1738e0"></div>
<div style="left:302.7px;top:627.0px;width:0;height:0;border-left:4.200px solid transparent;border-right:4.200px solid transparent;border-bottom:5.800px solid #e51c23"></div>
<div style="left:359.5px;top:627.0px;width:0;height:0;border-left:4.200px solid transparent;border-right:4.200px solid transparent;border-bottom:5.800px solid #e51c23"></div>
<div class="rb" style="left:26.0px;top:633.7px;width:176.5px;background:#f3fbfe"></div>
<div style="left:8.1px;top:633.7px;width:9.200px;height:9.200px;border:0.600px solid #e2e2e2;border-radius:50%"></div>
<div class="cd" style="left:2.3px;top:633.7px">53t</div>
<div class="nm" style="left:31.4px;top:633.7px">ริมถนนลาดพร้าว โชคชัย 4 เขตวังทองหลาง</div>
<div class="c y" style="left:202.6px;top:633.7px">50</div>
<div class="c o" style="left:259.6px;top:633.7px">61</div>
<div class="c o c3" style="left:316.1px;top:633.7px">79</div>
<div style="left:245.8px;top:638.6px;width:0;height:0;border-left:4.200px solid transparent;border-right:4.200px solid transparent;border-top:5.800px solid #1738e0"></div>
<div style="left:302.7px;top:638.0px;width:0;height:0;border-left:4.200px solid transparent;border-right:4.200px solid transparent;border-bottom:5.800px solid #e51c23"></div>
<div style="left:359.5px;top:638.0px;width:0;height:0;border-left:4.200px solid transparent;border-right:4.200px solid transparent;border-bottom:5.800px solid #e51c23"></div>
<div class="rb" style="left:26.0px;top:644.8px;width:176.5px;background:#f3fbfe"></div>
<div style="left:8.1px;top:644.8px;width:9.200px;height:9.200px;border:0.600px solid #e2e2e2;border-radius:50%"></div>
<div class="cd" style="left:2.3px;top:644.8px">54t</div>
<div class="nm" style="left:31.4px;top:644.8px">ริมถนนดินแดง เขตดินแดง</div>
<div class="c o" style="left:202.6px;top:644.8px">59</div>
<div class="c o" style="left:259.6px;top:644.8px">87</div>
<div class="c r c3" style="left:316.1px;top:644.8px">118</div>
<div style="left:245.8px;top:649.7px;width:0;height:0;border-left:4.200px solid transparent;border-right:4.200px solid transparent;border-top:5.800px solid #1738e0"></div>
<div style="left:302.7px;top:649.1px;width:0;height:0;border-left:4.200px solid transparent;border-right:4.200px solid transparent;border-bottom:5.800px solid #e51c23"></div>
<div style="left:359.5px;top:649.1px;width:0;height:0;border-left:4.200px solid transparent;border-right:4.200px solid transparent;border-bottom:5.800px solid #e51c23"></div>
<div class="rb" style="left:26.0px;top:655.8px;width:176.5px;background:#f3fbfe"></div>
<div style="left:8.1px;top:655.8px;width:9.200px;height:9.200px;border:0.600px solid #e2e2e2;border-radius:50%"></div>
<div class="cd" style="left:2.3px;top:655.8px">b56</div>
<div class="nm" style="left:31.4px;top:655.8px">ริมถนนวิภาวดีรังสิต เขตดินแดง</div>
<div class="c y" style="left:202.6px;top:655.8px">44</div>
<div class="c o" style="left:259.6px;top:655.8px">59</div>
<div class="c o c3" style="left:316.1px;top:655.8px">77</div>
<div style="left:245.8px;top:660.7px;width:0;height:0;border-left:4.200px solid transparent;border-right:4.200px solid transparent;border-top:5.800px solid #1738e0"></div>
<div style="left:302.7px;top:660.1px;width:0;height:0;border-left:4.200px solid transparent;border-right:4.200px solid transparent;border-bottom:5.800px solid #e51c23"></div>
<div style="left:359.5px;top:660.1px;width:0;height:0;border-left:4.200px solid transparent;border-right:4.200px solid transparent;border-bottom:5.800px solid #e51c23"></div>
<div class="rb" style="left:26.0px;top:666.8px;width:176.5px;background:#f3fbfe"></div>
<div style="left:8.1px;top:666.8px;width:9.200px;height:9.200px;border:0.600px solid #e2e2e2;border-radius:50%"></div>
<div class="cd" style="left:2.3px;top:666.8px">b57</div>
<div class="nm" style="left:31.4px;top:666.8px">ริมถนนสุขุมวิท เขตพระโขนง</div>
<div class="c o" style="left:202.6px;top:666.8px">55</div>
<div class="c o" style="left:259.6px;top:666.8px">57</div>
<div class="c o c3" style="left:316.1px;top:666.8px">76</div>
<div style="left:245.8px;top:671.1px;width:0;height:0;border-left:4.200px solid transparent;border-right:4.200px solid transparent;border-bottom:5.800px solid #e51c23"></div>
<div style="left:302.7px;top:671.1px;width:0;height:0;border-left:4.200px solid transparent;border-right:4.200px solid transparent;border-bottom:5.800px solid #e51c23"></div>
<div style="left:359.5px;top:671.1px;width:0;height:0;border-left:4.200px solid transparent;border-right:4.200px solid transparent;border-bottom:5.800px solid #e51c23"></div>
<div class="rb" style="left:26.0px;top:677.8px;width:176.5px;background:#f3fbfe"></div>
<div style="left:8.1px;top:677.8px;width:9.200px;height:9.200px;border:0.600px solid #e2e2e2;border-radius:50%"></div>
<div class="cd" style="left:2.3px;top:677.8px">b58</div>
<div class="nm" style="left:31.4px;top:677.8px">ริมถนนราษฎร์บูรณะ, เขตราษฎร์บูรณะ</div>
<div class="c o" style="left:202.6px;top:677.8px">51</div>
<div class="c o" style="left:259.6px;top:677.8px">56</div>
<div class="c o c3" style="left:316.1px;top:677.8px">66</div>
<div style="left:245.8px;top:682.1px;width:0;height:0;border-left:4.200px solid transparent;border-right:4.200px solid transparent;border-bottom:5.800px solid #e51c23"></div>
<div style="left:302.7px;top:682.1px;width:0;height:0;border-left:4.200px solid transparent;border-right:4.200px solid transparent;border-bottom:5.800px solid #e51c23"></div>
<div style="left:359.5px;top:682.1px;width:0;height:0;border-left:4.200px solid transparent;border-right:4.200px solid transparent;border-bottom:5.800px solid #e51c23"></div>
<div class="rb" style="left:26.0px;top:688.8px;width:176.5px;background:#f3fbfe"></div>
<div style="left:8.1px;top:688.8px;width:9.200px;height:9.200px;border:0.600px solid #e2e2e2;border-radius:50%"></div>
<div class="cd" style="left:2.3px;top:688.8px">b59</div>
<div class="nm" style="left:31.4px;top:688.8px">ริมถนนพญาไท เขตราชเทวี</div>
<div class="c y" style="left:202.6px;top:688.8px">39</div>
<div class="c y" style="left:259.6px;top:688.8px">44</div>
<div class="c o c3" style="left:316.1px;top:688.8px">65</div>
<div style="left:245.8px;top:693.7px;width:0;height:0;border-left:4.200px solid transparent;border-right:4.200px solid transparent;border-top:5.800px solid #1738e0"></div>
<div style="left:302.7px;top:693.1px;width:0;height:0;border-left:4.200px solid transparent;border-right:4.200px solid transparent;border-bottom:5.800px solid #e51c23"></div>
<div style="left:359.5px;top:693.1px;width:0;height:0;border-left:4.200px solid transparent;border-right:4.200px solid transparent;border-bottom:5.800px solid #e51c23"></div>
<div class="rb" style="left:26.0px;top:699.8px;width:176.5px;background:#f3fbfe"></div>
<div style="left:8.1px;top:699.8px;width:9.200px;height:9.200px;border:0.600px solid #e2e2e2;border-radius:50%"></div>
<div class="cd" style="left:2.3px;top:699.8px">b60</div>
<div class="nm" style="left:31.4px;top:699.8px">ริมสวนหย่อมตรงข้ามสำนักงานเขตดุสิต</div>
<div class="c y" style="left:202.6px;top:699.8px">48</div>
<div class="c o" style="left:259.6px;top:699.8px">76</div>
<div class="c o c3" style="left:316.1px;top:699.8px">88</div>
<div style="left:245.8px;top:704.7px;width:0;height:0;border-left:4.200px solid transparent;border-right:4.200px solid transparent;border-top:5.800px solid #1738e0"></div>
<div style="left:302.7px;top:704.1px;width:0;height:0;border-left:4.200px solid transparent;border-right:4.200px solid transparent;border-bottom:5.800px solid #e51c23"></div>
<div style="left:359.5px;top:704.1px;width:0;height:0;border-left:4.200px solid transparent;border-right:4.200px solid transparent;border-bottom:5.800px solid #e51c23"></div>
<div class="rb" style="left:26.0px;top:710.9px;width:176.5px;background:#f3fbfe"></div>
<div style="left:8.1px;top:710.9px;width:9.200px;height:9.200px;border:0.600px solid #e2e2e2;border-radius:50%"></div>
<div class="cd" style="left:2.3px;top:710.9px">b61</div>
<div class="nm" style="left:31.4px;top:710.9px">ริมถนนกรุงเกษม เขตป้อมปราบฯ</div>
<div class="c y" style="left:202.6px;top:710.9px">47</div>
<div class="c o" style="left:259.6px;top:710.9px">62</div>
<div class="c o c3" style="left:316.1px;top:710.9px">71</div>
<div style="left:245.8px;top:715.8px;width:0;height:0;border-left:4.200px solid transparent;border-right:4.200px solid transparent;border-top:5.800px solid #1738e0"></div>
<div style="left:302.7px;top:715.2px;width:0;height:0;border-left:4.200px solid transparent;border-right:4.200px solid transparent;border-bottom:5.800px solid #e51c23"></div>
<div style="left:359.5px;top:715.2px;width:0;height:0;border-left:4.200px solid transparent;border-right:4.200px solid transparent;border-bottom:5.800px solid #e51c23"></div>
<div class="rb" style="left:26.0px;top:721.9px;width:176.5px;background:#f3fbfe"></div>
<div style="left:8.1px;top:721.9px;width:9.200px;height:9.200px;border:0.600px solid #e2e2e2;border-radius:50%"></div>
<div class="cd" style="left:2.3px;top:721.9px">b62</div>
<div class="nm" style="left:31.4px;top:721.9px">ริมถนนตรีมิตร วงเวียนโอเดียน เขตสัมพันธวงศ์</div>
<div class="c o" style="left:202.6px;top:721.9px">52</div>
<div class="c o" style="left:259.6px;top:721.9px">69</div>
<div class="c o c3" style="left:316.1px;top:721.9px">85</div>
<div style="left:302.7px;top:726.2px;width:0;height:0;border-left:4.200px solid transparent;border-right:4.200px solid transparent;border-bottom:5.800px solid #e51c23"></div>
<div style="left:359.5px;top:726.2px;width:0;height:0;border-left:4.200px solid transparent;border-right:4.200px solid transparent;border-bottom:5.800px solid #e51c23"></div>
<div class="rb" style="left:26.0px;top:732.9px;width:176.5px;background:#f3fbfe"></div>
<div style="left:8.1px;top:732.9px;width:9.200px;height:9.200px;border:0.600px solid #e2e2e2;border-radius:50%"></div>
<div class="cd" style="left:2.3px;top:732.9px">b63</div>
<div class="nm" style="left:31.4px;top:732.9px">ริมถนนพระราม 6 เขตพญาไท</div>
<div class="c y" style="left:202.6px;top:732.9px">46</div>
<div class="c o" style="left:259.6px;top:732.9px">68</div>
<div class="c o c3" style="left:316.1px;top:732.9px">84</div>
<div style="left:245.8px;top:737.8px;width:0;height:0;border-left:4.200px solid transparent;border-right:4.200px solid transparent;border-top:5.800px solid #1738e0"></div>
<div style="left:302.7px;top:737.2px;width:0;height:0;border-left:4.200px solid transparent;border-right:4.200px solid transparent;border-bottom:5.800px solid #e51c23"></div>
<div style="left:359.5px;top:737.2px;width:0;height:0;border-left:4.200px solid transparent;border-right:4.200px solid transparent;border-bottom:5.800px solid #e51c23"></div>
<div class="rb" style="left:26.0px;top:743.9px;width:176.5px;background:#f3fbfe"></div>
<div style="left:8.1px;top:743.9px;width:9.200px;height:9.200px;border:0.600px solid #e2e2e2;border-radius:50%"></div>
<div class="cd" style="left:2.3px;top:743.9px">b64</div>
<div class="nm" style="left:31.4px;top:743.9px">ริมถนนลาดพร้าว ซ.ลาดพร้าว 95 เขตวังทองหลาง</div>
<div class="c y" style="left:202.6px;top:743.9px">46</div>
<div class="c o" style="left:259.6px;top:743.9px">69</div>
<div class="c o c3" style="left:316.1px;top:743.9px">82</div>
<div style="left:245.8px;top:748.8px;width:0;height:0;border-left:4.200px solid transparent;border-right:4.200px solid transparent;border-top:5.800px solid #1738e0"></div>
<div style="left:302.7px;top:748.2px;width:0;height:0;border-left:4.200px solid transparent;border-right:4.200px solid transparent;border-bottom:5.800px solid #e51c23"></div>
<div style="left:359.5px;top:748.2px;width:0;height:0;border-left:4.200px solid transparent;border-right:4.200px solid transparent;border-bottom:5.800px solid #e51c23"></div>
<div class="rb" style="left:26.0px;top:754.9px;width:176.5px;background:#f3fbfe"></div>
<div style="left:8.1px;top:754.9px;width:9.200px;height:9.200px;border:0.600px solid #e2e2e2;border-radius:50%"></div>
<div class="cd" style="left:2.3px;top:754.9px">b65</div>
<div class="nm" style="left:31.4px;top:754.9px">ริมถนนพระรามที่ 4 หน้าสามย่านมิตรทาวน์ เขตปทุมวัน</div>
<div class="c o" style="left:202.6px;top:754.9px">52</div>
<div class="c o" style="left:259.6px;top:754.9px">69</div>
<div class="c o c3" style="left:316.1px;top:754.9px">90</div>
<div style="left:245.8px;top:759.8px;width:0;height:0;border-left:4.200px solid transparent;border-right:4.200px solid transparent;border-top:5.800px solid #1738e0"></div>
<div style="left:302.7px;top:759.2px;width:0;height:0;border-left:4.200px solid transparent;border-right:4.200px solid transparent;border-bottom:5.800px solid #e51c23"></div>
<div style="left:359.5px;top:759.2px;width:0;height:0;border-left:4.200px solid transparent;border-right:4.200px solid transparent;border-bottom:5.800px solid #e51c23"></div>
<div class="rb" style="left:26.0px;top:765.9px;width:176.5px;background:#f3fbfe"></div>
<div style="left:8.1px;top:765.9px;width:9.200px;height:9.200px;border:0.600px solid #e2e2e2;border-radius:50%"></div>
<div class="cd" style="left:2.3px;top:765.9px">b66</div>
<div class="nm" style="left:31.4px;top:765.9px">ริมถนนนราธิวาส เขตบางรัก</div>
<div class="c y" style="left:202.6px;top:765.9px">46</div>
<div class="c o" style="left:259.6px;top:765.9px">58</div>
<div class="c o c3" style="left:316.1px;top:765.9px">82</div>
<div style="left:245.8px;top:770.8px;width:0;height:0;border-left:4.200px solid transparent;border-right:4.200px solid transparent;border-top:5.800px solid #1738e0"></div>
<div style="left:302.7px;top:770.2px;width:0;height:0;border-left:4.200px solid transparent;border-right:4.200px solid transparent;border-bottom:5.800px solid #e51c23"></div>
<div style="left:359.5px;top:770.2px;width:0;height:0;border-left:4.200px solid transparent;border-right:4.200px solid transparent;border-bottom:5.800px solid #e51c23"></div>
<div class="rb" style="left:26.0px;top:777.0px;width:176.5px;background:#f3fbfe"></div>
<div style="left:8.1px;top:777.0px;width:9.200px;height:9.200px;border:0.600px solid #e2e2e2;border-radius:50%"></div>
<div class="cd" style="left:2.3px;top:777.0px">b68</div>
<div class="nm" style="left:31.4px;top:777.0px">ริมถนนพระราม 3-เจริญกรุง เขตบางคอแหลม</div>
<div class="c y" style="left:202.6px;top:777.0px">47</div>
<div class="c na" style="left:259.6px;top:777.0px">N/A</div>
<div class="c o c3" style="left:316.1px;top:777.0px">77</div>
<div style="left:245.8px;top:781.9px;width:0;height:0;border-left:4.200px solid transparent;border-right:4.200px solid transparent;border-top:5.800px solid #1738e0"></div>
<div class="rb" style="left:26.0px;top:788.0px;width:176.5px;background:#f3fbfe"></div>
<div style="left:8.1px;top:788.0px;width:9.200px;height:9.200px;border:0.600px solid #e2e2e2;border-radius:50%"></div>
<div class="cd" style="left:2.3px;top:788.0px">b69</div>
<div class="nm" style="left:31.4px;top:788.0px">ริมถนนพระราม 3 เขตยานนาวา</div>
<div class="c o" style="left:202.6px;top:788.0px">57</div>
<div class="c o" style="left:259.6px;top:788.0px">63</div>
<div class="c o c3" style="left:316.1px;top:788.0px">79</div>
<div style="left:245.8px;top:792.3px;width:0;height:0;border-left:4.200px solid transparent;border-right:4.200px solid transparent;border-bottom:5.800px solid #e51c23"></div>
<div style="left:302.7px;top:792.3px;width:0;height:0;border-left:4.200px solid transparent;border-right:4.200px solid transparent;border-bottom:5.800px solid #e51c23"></div>
<div style="left:359.5px;top:792.3px;width:0;height:0;border-left:4.200px solid transparent;border-right:4.200px solid transparent;border-bottom:5.800px solid #e51c23"></div>
<div class="rb" style="left:26.0px;top:799.0px;width:176.5px;background:#f3fbfe"></div>
<div style="left:8.1px;top:799.0px;width:9.200px;height:9.200px;border:0.600px solid #e2e2e2;border-radius:50%"></div>
<div class="cd" style="left:2.3px;top:799.0px">b70</div>
<div class="nm" style="left:31.4px;top:799.0px">ริมถนนซอยสุขุมวิท 63 เขตวัฒนา</div>
<div class="c y" style="left:202.6px;top:799.0px">44</div>
<div class="c o" style="left:259.6px;top:799.0px">54</div>
<div class="c o c3" style="left:316.1px;top:799.0px">73</div>
<div style="left:245.8px;top:803.9px;width:0;height:0;border-left:4.200px solid transparent;border-right:4.200px solid transparent;border-top:5.800px solid #1738e0"></div>
<div style="left:302.7px;top:803.3px;width:0;height:0;border-left:4.200px solid transparent;border-right:4.200px solid transparent;border-bottom:5.800px solid #e51c23"></div>
<div style="left:359.5px;top:803.3px;width:0;height:0;border-left:4.200px solid transparent;border-right:4.200px solid transparent;border-bottom:5.800px solid #e51c23"></div>
<div class="rb" style="left:26.0px;top:810.0px;width:176.5px;background:#f3fbfe"></div>
<div style="left:8.1px;top:810.0px;width:9.200px;height:9.200px;border:0.600px solid #e2e2e2;border-radius:50%"></div>
<div class="cd" style="left:2.3px;top:810.0px">b71</div>
<div class="nm" style="left:31.4px;top:810.0px">ริมถนนพัฒนาการ เขตสวนหลวง</div>
<div class="c y" style="left:202.6px;top:810.0px">45</div>
<div class="c o" style="left:259.6px;top:810.0px">60</div>
<div class="c o c3" style="left:316.1px;top:810.0px">76</div>
<div style="left:245.8px;top:814.9px;width:0;height:0;border-left:4.200px solid transparent;border-right:4.200px solid transparent;border-top:5.800px solid #1738e0"></div>
<div style="left:302.7px;top:814.3px;width:0;height:0;border-left:4.200px solid transparent;border-right:4.200px solid transparent;border-bottom:5.800px solid #e51c23"></div>
<div style="left:359.5px;top:814.3px;width:0;height:0;border-left:4.200px solid transparent;border-right:4.200px solid transparent;border-bottom:5.800px solid #e51c23"></div>
<div class="rb" style="left:26.0px;top:821.0px;width:176.5px;background:#f3fbfe"></div>
<div style="left:8.1px;top:821.0px;width:9.200px;height:9.200px;border:0.600px solid #e2e2e2;border-radius:50%"></div>
<div class="cd" style="left:2.3px;top:821.0px">b72</div>
<div class="nm" style="left:31.4px;top:821.0px">ริมถนนบางนา-ตราด เขตบางนา</div>
<div class="c o" style="left:202.6px;top:821.0px">56</div>
<div class="c o" style="left:259.6px;top:821.0px">70</div>
<div class="c o c3" style="left:316.1px;top:821.0px">86</div>
<div style="left:245.8px;top:825.3px;width:0;height:0;border-left:4.200px solid transparent;border-right:4.200px solid transparent;border-bottom:5.800px solid #e51c23"></div>
<div style="left:302.7px;top:825.3px;width:0;height:0;border-left:4.200px solid transparent;border-right:4.200px solid transparent;border-bottom:5.800px solid #e51c23"></div>
<div style="left:359.5px;top:825.3px;width:0;height:0;border-left:4.200px solid transparent;border-right:4.200px solid transparent;border-bottom:5.800px solid #e51c23"></div>
<div class="rb" style="left:26.0px;top:832.0px;width:176.5px;background:#f3fbfe"></div>
<div style="left:8.1px;top:832.0px;width:9.200px;height:9.200px;border:0.600px solid #e2e2e2;border-radius:50%"></div>
<div class="cd" style="left:2.3px;top:832.0px">b73</div>
<div class="nm" style="left:31.4px;top:832.0px">ริมถนนพหลโยธิน เขตจตุจักร</div>
<div class="c y" style="left:202.6px;top:832.0px">47</div>
<div class="c y" style="left:259.6px;top:832.0px">50</div>
<div class="c o c3" style="left:316.1px;top:832.0px">71</div>
<div style="left:245.8px;top:836.9px;width:0;height:0;border-left:4.200px solid transparent;border-right:4.200px solid transparent;border-top:5.800px solid #1738e0"></div>
<div style="left:302.7px;top:836.3px;width:0;height:0;border-left:4.200px solid transparent;border-right:4.200px solid transparent;border-bottom:5.800px solid #e51c23"></div>
<div style="left:359.5px;top:836.3px;width:0;height:0;border-left:4.200px solid transparent;border-right:4.200px solid transparent;border-bottom:5.800px solid #e51c23"></div>
<div class="rb" style="left:26.0px;top:843.1px;width:176.5px;background:#f3fbfe"></div>
<div style="left:8.1px;top:843.1px;width:9.200px;height:9.200px;border:0.600px solid #e2e2e2;border-radius:50%"></div>
<div class="cd" style="left:2.3px;top:843.1px">b75</div>
<div class="nm" style="left:31.4px;top:843.1px">ริมถนนสุขาภิบาล5 เขตสายไหม</div>
<div class="c o" style="left:202.6px;top:843.1px">52</div>
<div class="c o" style="left:259.6px;top:843.1px">67</div>
<div class="c o c3" style="left:316.1px;top:843.1px">83</div>
<div style="left:245.8px;top:848.0px;width:0;height:0;border-left:4.200px solid transparent;border-right:4.200px solid transparent;border-top:5.800px solid #1738e0"></div>
<div style="left:302.7px;top:847.4px;width:0;height:0;border-left:4.200px solid transparent;border-right:4.200px solid transparent;border-bottom:5.800px solid #e51c23"></div>
<div style="left:359.5px;top:847.4px;width:0;height:0;border-left:4.200px solid transparent;border-right:4.200px solid transparent;border-bottom:5.800px solid #e51c23"></div>
<div class="rb" style="left:26.0px;top:854.1px;width:176.5px;background:#f3fbfe"></div>
<div style="left:8.1px;top:854.1px;width:9.200px;height:9.200px;border:0.600px solid #e2e2e2;border-radius:50%"></div>
<div class="cd" style="left:2.3px;top:854.1px">b76</div>
<div class="nm" style="left:31.4px;top:854.1px">ริมถนนนวมินทร์ แยกบางกะปิ</div>
<div class="c o" style="left:202.6px;top:854.1px">54</div>
<div class="c o" style="left:259.6px;top:854.1px">66</div>
<div class="c o c3" style="left:316.1px;top:854.1px">85</div>
<div style="left:245.8px;top:858.4px;width:0;height:0;border-left:4.200px solid transparent;border-right:4.200px solid transparent;border-bottom:5.800px solid #e51c23"></div>
<div style="left:302.7px;top:858.4px;width:0;height:0;border-left:4.200px solid transparent;border-right:4.200px solid transparent;border-bottom:5.800px solid #e51c23"></div>
<div style="left:359.5px;top:858.4px;width:0;height:0;border-left:4.200px solid transparent;border-right:4.200px solid transparent;border-bottom:5.800px solid #e51c23"></div>
<div class="rb" style="left:26.0px;top:865.1px;width:176.5px;background:#f3fbfe"></div>
<div style="left:8.1px;top:865.1px;width:9.200px;height:9.200px;border:0.600px solid #e2e2e2;border-radius:50%"></div>
<div class="cd" style="left:2.3px;top:865.1px">b78</div>
<div class="nm" style="left:31.4px;top:865.1px">ริมถนนลาดกระบัง เขตลาดกระบัง</div>
<div class="c y" style="left:202.6px;top:865.1px">50</div>
<div class="c o" style="left:259.6px;top:865.1px">55</div>
<div class="c o c3" style="left:316.1px;top:865.1px">60</div>
<div style="left:245.8px;top:870.0px;width:0;height:0;border-left:4.200px solid transparent;border-right:4.200px solid transparent;border-top:5.800px solid #1738e0"></div>
<div style="left:302.7px;top:869.4px;width:0;height:0;border-left:4.200px solid transparent;border-right:4.200px solid transparent;border-bottom:5.800px solid #e51c23"></div>
<div style="left:359.5px;top:869.4px;width:0;height:0;border-left:4.200px solid transparent;border-right:4.200px solid transparent;border-bottom:5.800px solid #e51c23"></div>
<div class="rb" style="left:26.0px;top:876.1px;width:176.5px;background:#f3fbfe"></div>
<div style="left:8.1px;top:876.1px;width:9.200px;height:9.200px;border:0.600px solid #e2e2e2;border-radius:50%"></div>
<div class="cd" style="left:2.3px;top:876.1px">b79</div>
<div class="nm" style="left:31.4px;top:876.1px">ริมถนนริมถนนสีหบุรานุกิจ เขตมีนบุรี</div>
<div class="c y" style="left:202.6px;top:876.1px">42</div>
<div class="c o" style="left:259.6px;top:876.1px">58</div>
<div class="c o c3" style="left:316.1px;top:876.1px">70</div>
<div style="left:245.8px;top:881.0px;width:0;height:0;border-left:4.200px solid transparent;border-right:4.200px solid transparent;border-top:5.800px solid #1738e0"></div>
<div style="left:302.7px;top:880.4px;width:0;height:0;border-left:4.200px solid transparent;border-right:4.200px solid transparent;border-bottom:5.800px solid #e51c23"></div>
<div style="left:359.5px;top:880.4px;width:0;height:0;border-left:4.200px solid transparent;border-right:4.200px solid transparent;border-bottom:5.800px solid #e51c23"></div>
<div class="rb" style="left:26.0px;top:887.1px;width:176.5px;background:#f3fbfe"></div>
<div style="left:8.1px;top:887.1px;width:9.200px;height:9.200px;border:0.600px solid #e2e2e2;border-radius:50%"></div>
<div class="cd" style="left:2.3px;top:887.1px">b80</div>
<div class="nm" style="left:31.4px;top:887.1px">ริมถนนเลียบวารี เขตหนองจอก</div>
<div class="c y" style="left:202.6px;top:887.1px">46</div>
<div class="c o" style="left:259.6px;top:887.1px">54</div>
<div class="c o c3" style="left:316.1px;top:887.1px">56</div>
<div style="left:245.8px;top:892.0px;width:0;height:0;border-left:4.200px solid transparent;border-right:4.200px solid transparent;border-top:5.800px solid #1738e0"></div>
<div style="left:302.7px;top:891.4px;width:0;height:0;border-left:4.200px solid transparent;border-right:4.200px solid transparent;border-bottom:5.800px solid #e51c23"></div>
<div style="left:359.5px;top:891.4px;width:0;height:0;border-left:4.200px solid transparent;border-right:4.200px solid transparent;border-bottom:5.800px solid #e51c23"></div>
<div class="rb" style="left:26.0px;top:898.1px;width:176.5px;background:#f3fbfe"></div>
<div style="left:8.1px;top:898.1px;width:9.200px;height:9.200px;border:0.600px solid #e2e2e2;border-radius:50%"></div>
<div class="cd" style="left:2.3px;top:898.1px">b81</div>
<div class="nm" style="left:31.4px;top:898.1px">ริมถนนศรีนครินทร์ เขตประเวศ</div>
<div class="c o" style="left:202.6px;top:898.1px">61</div>
<div class="c o" style="left:259.6px;top:898.1px">75</div>
<div class="c r c3" style="left:316.1px;top:898.1px">94</div>
<div style="left:245.8px;top:902.4px;width:0;height:0;border-left:4.200px solid transparent;border-right:4.200px solid transparent;border-bottom:5.800px solid #e51c23"></div>
<div style="left:302.7px;top:902.4px;width:0;height:0;border-left:4.200px solid transparent;border-right:4.200px solid transparent;border-bottom:5.800px solid #e51c23"></div>
<div style="left:359.5px;top:902.4px;width:0;height:0;border-left:4.200px solid transparent;border-right:4.200px solid transparent;border-bottom:5.800px solid #e51c23"></div>
<div class="rb" style="left:26.0px;top:909.1px;width:176.5px;background:#f3fbfe"></div>
<div style="left:8.1px;top:909.1px;width:9.200px;height:9.200px;border:0.600px solid #e2e2e2;border-radius:50%"></div>
<div class="cd" style="left:2.3px;top:909.1px">b82</div>
<div class="nm" style="left:31.4px;top:909.1px">ริมถนนรัชดาภิเษก-ท่าพระ เขตธนบุรี</div>
<div class="c y" style="left:202.6px;top:909.1px">50</div>
<div class="c o" style="left:259.6px;top:909.1px">61</div>
<div class="c o c3" style="left:316.1px;top:909.1px">77</div>
<div style="left:245.8px;top:914.0px;width:0;height:0;border-left:4.200px solid transparent;border-right:4.200px solid transparent;border-top:5.800px solid #1738e0"></div>
<div style="left:302.7px;top:913.4px;width:0;height:0;border-left:4.200px solid transparent;border-right:4.200px solid transparent;border-bottom:5.800px solid #e51c23"></div>
<div style="left:359.5px;top:913.4px;width:0;height:0;border-left:4.200px solid transparent;border-right:4.200px solid transparent;border-bottom:5.800px solid #e51c23"></div>
<div class="rb" style="left:26.0px;top:920.2px;width:176.5px;background:#f3fbfe"></div>
<div style="left:8.1px;top:920.2px;width:9.200px;height:9.200px;border:0.600px solid #e2e2e2;border-radius:50%"></div>
<div class="cd" style="left:2.3px;top:920.2px">b83</div>
<div class="nm" style="left:31.4px;top:920.2px">ริมถนนเจริญนคร เขตคลองสาน</div>
<div class="c o" style="left:202.6px;top:920.2px">54</div>
<div class="c o" style="left:259.6px;top:920.2px">78</div>
<div class="c r c3" style="left:316.1px;top:920.2px">102</div>
<div style="left:245.8px;top:925.1px;width:0;height:0;border-left:4.200px solid transparent;border-right:4.200px solid transparent;border-top:5.800px solid #1738e0"></div>
<div style="left:302.7px;top:924.5px;width:0;height:0;border-left:4.200px solid transparent;border-right:4.200px solid transparent;border-bottom:5.800px solid #e51c23"></div>
<div style="left:359.5px;top:924.5px;width:0;height:0;border-left:4.200px solid transparent;border-right:4.200px solid transparent;border-bottom:5.800px solid #e51c23"></div>
<div class="rb" style="left:26.0px;top:931.2px;width:176.5px;background:#f3fbfe"></div>
<div style="left:8.1px;top:931.2px;width:9.200px;height:9.200px;border:0.600px solid #e2e2e2;border-radius:50%"></div>
<div class="cd" style="left:2.3px;top:931.2px">b84</div>
<div class="nm" style="left:31.4px;top:931.2px">ริมถนนแยกท่าพระ เขตบางกอกใหญ่</div>
<div class="c o" style="left:202.6px;top:931.2px">55</div>
<div class="c na" style="left:259.6px;top:931.2px">N/A</div>
<div class="c r c3" style="left:316.1px;top:931.2px">94</div>
<div style="left:245.8px;top:936.1px;width:0;height:0;border-left:4.200px solid transparent;border-right:4.200px solid transparent;border-top:5.800px solid #1738e0"></div>
<div class="rb" style="left:26.0px;top:942.2px;width:176.5px;background:#f3fbfe"></div>
<div style="left:8.1px;top:942.2px;width:9.200px;height:9.200px;border:0.600px solid #e2e2e2;border-radius:50%"></div>
<div class="cd" style="left:2.3px;top:942.2px">b85</div>
<div class="nm" style="left:31.4px;top:942.2px">ริมถนนซอยนิคมบ้านพักรถไฟธนบุรี 5 เขตบางกอกน้อย</div>
<div class="c y" style="left:202.6px;top:942.2px">49</div>
<div class="c o" style="left:259.6px;top:942.2px">78</div>
<div class="c na c3" style="left:316.1px;top:942.2px">N/A</div>
<div style="left:245.8px;top:947.1px;width:0;height:0;border-left:4.200px solid transparent;border-right:4.200px solid transparent;border-top:5.800px solid #1738e0"></div>
<div style="left:302.7px;top:946.5px;width:0;height:0;border-left:4.200px solid transparent;border-right:4.200px solid transparent;border-bottom:5.800px solid #e51c23"></div>
<div class="rb" style="left:26.0px;top:953.2px;width:176.5px;background:#f3fbfe"></div>
<div style="left:8.1px;top:953.2px;width:9.200px;height:9.200px;border:0.600px solid #e2e2e2;border-radius:50%"></div>
<div class="cd" style="left:2.3px;top:953.2px">b86</div>
<div class="nm" style="left:31.4px;top:953.2px">ริมถนนพุทธมณฑล 1 เขตตลิ่งชัน</div>
<div class="c o" style="left:202.6px;top:953.2px">51</div>
<div class="c o" style="left:259.6px;top:953.2px">63</div>
<div class="c o c3" style="left:316.1px;top:953.2px">87</div>
<div style="left:245.8px;top:958.1px;width:0;height:0;border-left:4.200px solid transparent;border-right:4.200px solid transparent;border-top:5.800px solid #1738e0"></div>
<div style="left:302.7px;top:957.5px;width:0;height:0;border-left:4.200px solid transparent;border-right:4.200px solid transparent;border-bottom:5.800px solid #e51c23"></div>
<div style="left:359.5px;top:957.5px;width:0;height:0;border-left:4.200px solid transparent;border-right:4.200px solid transparent;border-bottom:5.800px solid #e51c23"></div>
<div class="rb" style="left:26.0px;top:964.2px;width:176.5px;background:#f3fbfe"></div>
<div style="left:8.1px;top:964.2px;width:9.200px;height:9.200px;border:0.600px solid #e2e2e2;border-radius:50%"></div>
<div class="cd" style="left:2.3px;top:964.2px">b87</div>
<div class="nm" style="left:31.4px;top:964.2px">ริมถนนคลองทวีวัฒนา เขตทวีวัฒนา</div>
<div class="c o" style="left:202.6px;top:964.2px">58</div>
<div class="c o" style="left:259.6px;top:964.2px">69</div>
<div class="c o c3" style="left:316.1px;top:964.2px">80</div>
<div style="left:245.8px;top:969.1px;width:0;height:0;border-left:4.200px solid transparent;border-right:4.200px solid transparent;border-top:5.800px solid #1738e0"></div>
<div style="left:302.7px;top:968.5px;width:0;height:0;border-left:4.200px solid transparent;border-right:4.200px solid transparent;border-bottom:5.800px solid #e51c23"></div>
<div style="left:359.5px;top:968.5px;width:0;height:0;border-left:4.200px solid transparent;border-right:4.200px solid transparent;border-bottom:5.800px solid #e51c23"></div>
<div class="rb" style="left:26.0px;top:975.2px;width:176.5px;background:#f3fbfe"></div>
<div style="left:8.1px;top:975.2px;width:9.200px;height:9.200px;border:0.600px solid #e2e2e2;border-radius:50%"></div>
<div class="cd" style="left:2.3px;top:975.2px">b88</div>
<div class="nm" style="left:31.4px;top:975.2px">ริมถนนเพชรเกษม เขตภาษีเจริญ</div>
<div class="c o" style="left:202.6px;top:975.2px">55</div>
<div class="c o" style="left:259.6px;top:975.2px">65</div>
<div class="c o c3" style="left:316.1px;top:975.2px">71</div>
<div style="left:245.8px;top:980.1px;width:0;height:0;border-left:4.200px solid transparent;border-right:4.200px solid transparent;border-top:5.800px solid #1738e0"></div>
<div style="left:302.7px;top:979.5px;width:0;height:0;border-left:4.200px solid transparent;border-right:4.200px solid transparent;border-bottom:5.800px solid #e51c23"></div>
<div style="left:359.5px;top:979.5px;width:0;height:0;border-left:4.200px solid transparent;border-right:4.200px solid transparent;border-bottom:5.800px solid #e51c23"></div>
<div class="rb" style="left:26.0px;top:986.3px;width:176.5px;background:#f3fbfe"></div>
<div style="left:8.1px;top:986.3px;width:9.200px;height:9.200px;border:0.600px solid #e2e2e2;border-radius:50%"></div>
<div class="cd" style="left:2.3px;top:986.3px">b89</div>
<div class="nm" style="left:31.4px;top:986.3px">ริมถนนมาเจริญ เพชรเกษม 8 เขตหนองแขม</div>
<div class="c o" style="left:202.6px;top:986.3px">72</div>
<div class="c o" style="left:259.6px;top:986.3px">67</div>
<div class="c r c3" style="left:316.1px;top:986.3px">100</div>
<div style="left:302.7px;top:991.2px;width:0;height:0;border-left:4.200px solid transparent;border-right:4.200px solid transparent;border-top:5.800px solid #1738e0"></div>
<div style="left:359.5px;top:990.6px;width:0;height:0;border-left:4.200px solid transparent;border-right:4.200px solid transparent;border-bottom:5.800px solid #e51c23"></div>
<div class="rb" style="left:26.0px;top:997.3px;width:176.5px;background:#f3fbfe"></div>
<div style="left:8.1px;top:997.3px;width:9.200px;height:9.200px;border:0.600px solid #e2e2e2;border-radius:50%"></div>
<div class="cd" style="left:2.3px;top:997.3px">b90</div>
<div class="nm" style="left:31.4px;top:997.3px">ริมถนนเอกชัย เขตบางบอน</div>
<div class="c o" style="left:202.6px;top:997.3px">73</div>
<div class="c o" style="left:259.6px;top:997.3px">70</div>
<div class="c o c3" style="left:316.1px;top:997.3px">82</div>
<div style="left:245.8px;top:1001.6px;width:0;height:0;border-left:4.200px solid transparent;border-right:4.200px solid transparent;border-bottom:5.800px solid #e51c23"></div>
<div style="left:302.7px;top:1002.2px;width:0;height:0;border-left:4.200px solid transparent;border-right:4.200px solid transparent;border-top:5.800px solid #1738e0"></div>
<div style="left:359.5px;top:1001.6px;width:0;height:0;border-left:4.200px solid transparent;border-right:4.200px solid transparent;border-bottom:5.800px solid #e51c23"></div>
<div class="rb" style="left:26.0px;top:1008.3px;width:176.5px;background:#f3fbfe"></div>
<div style="left:8.1px;top:1008.3px;width:9.200px;height:9.200px;border:0.600px solid #e2e2e2;border-radius:50%"></div>
<div class="cd" style="left:2.3px;top:1008.3px">b91</div>
<div class="nm" style="left:31.4px;top:1008.3px">ริมถนนประชาอุทิศ เขตทุ่งครุ</div>
<div class="c o" style="left:202.6px;top:1008.3px">60</div>
<div class="c o" style="left:259.6px;top:1008.3px">66</div>
<div class="c o c3" style="left:316.1px;top:1008.3px">75</div>
<div style="left:245.8px;top:1012.6px;width:0;height:0;border-left:4.200px solid transparent;border-right:4.200px solid transparent;border-bottom:5.800px solid #e51c23"></div>
<div style="left:302.7px;top:1012.6px;width:0;height:0;border-left:4.200px solid transparent;border-right:4.200px solid transparent;border-bottom:5.800px solid #e51c23"></div>
<div style="left:359.5px;top:1012.6px;width:0;height:0;border-left:4.200px solid transparent;border-right:4.200px solid transparent;border-bottom:5.800px solid #e51c23"></div>
<div class="rb" style="left:26.0px;top:1019.3px;width:176.5px;background:#f3fbfe"></div>
<div style="left:8.1px;top:1019.3px;width:9.200px;height:9.200px;border:0.600px solid #e2e2e2;border-radius:50%"></div>
<div class="cd" style="left:2.3px;top:1019.3px">b92</div>
<div class="nm" style="left:31.4px;top:1019.3px">ริมถนนสามเสน เขตพระนคร</div>
<div class="c o" style="left:202.6px;top:1019.3px">52</div>
<div class="c o" style="left:259.6px;top:1019.3px">77</div>
<div class="c r c3" style="left:316.1px;top:1019.3px">93</div>
<div style="left:245.8px;top:1024.2px;width:0;height:0;border-left:4.200px solid transparent;border-right:4.200px solid transparent;border-top:5.800px solid #1738e0"></div>
<div style="left:302.7px;top:1023.6px;width:0;height:0;border-left:4.200px solid transparent;border-right:4.200px solid transparent;border-bottom:5.800px solid #e51c23"></div>
<div style="left:359.5px;top:1023.6px;width:0;height:0;border-left:4.200px solid transparent;border-right:4.200px solid transparent;border-bottom:5.800px solid #e51c23"></div>
<div class="rb" style="left:26.0px;top:1030.3px;width:176.5px;background:#f3fbfe"></div>
<div style="left:8.1px;top:1030.3px;width:9.200px;height:9.200px;border:0.600px solid #e2e2e2;border-radius:50%"></div>
<div class="cd" style="left:2.3px;top:1030.3px">b98</div>
<div class="nm" style="left:31.4px;top:1030.3px">ริมถนนพหลโยธิน เขตบางเขน</div>
<div class="c o" style="left:202.6px;top:1030.3px">54</div>
<div class="c o" style="left:259.6px;top:1030.3px">66</div>
<div class="c o c3" style="left:316.1px;top:1030.3px">90</div>
<div style="left:245.8px;top:1035.2px;width:0;height:0;border-left:4.200px solid transparent;border-right:4.200px solid transparent;border-top:5.800px solid #1738e0"></div>
<div style="left:302.7px;top:1034.6px;width:0;height:0;border-left:4.200px solid transparent;border-right:4.200px solid transparent;border-bottom:5.800px solid #e51c23"></div>
<div style="left:359.5px;top:1034.6px;width:0;height:0;border-left:4.200px solid transparent;border-right:4.200px solid transparent;border-bottom:5.800px solid #e51c23"></div>
<div class="rb" style="left:26.0px;top:1041.3px;width:176.5px;background:#f3fbfe"></div>
<div style="left:8.1px;top:1041.3px;width:9.200px;height:9.200px;border:0.600px solid #e2e2e2;border-radius:50%"></div>
<div class="cd" style="left:2.3px;top:1041.3px">b103</div>
<div class="nm" style="left:31.4px;top:1041.3px">ริมถนนจรัญสนิทวงศ์ เขตบางพลัด</div>
<div class="c gn" style="left:202.6px;top:1041.3px">33</div>
<div class="c o" style="left:259.6px;top:1041.3px">81</div>
<div class="c na c3" style="left:316.1px;top:1041.3px">N/A</div>
<div style="left:302.7px;top:1045.6px;width:0;height:0;border-left:4.200px solid transparent;border-right:4.200px solid transparent;border-bottom:5.800px solid #e51c23"></div>
<div class="rb" style="left:26.0px;top:1052.4px;width:176.5px;background:#f3fbfe"></div>
<div style="left:8.1px;top:1052.4px;width:9.200px;height:9.200px;border:0.600px solid #e2e2e2;border-radius:50%"></div>
<div class="cd" style="left:2.3px;top:1052.4px">b105</div>
<div class="nm" style="left:31.4px;top:1052.4px">ริมถนนพระราม 2 เขตบางขุนเทียน</div>
<div class="c o" style="left:202.6px;top:1052.4px">75</div>
<div class="c o" style="left:259.6px;top:1052.4px">74</div>
<div class="c o c3" style="left:316.1px;top:1052.4px">83</div>
<div style="left:245.8px;top:1056.7px;width:0;height:0;border-left:4.200px solid transparent;border-right:4.200px solid transparent;border-bottom:5.800px solid #e51c23"></div>
<div style="left:302.7px;top:1057.3px;width:0;height:0;border-left:4.200px solid transparent;border-right:4.200px solid transparent;border-top:5.800px solid #1738e0"></div>
<div style="left:359.5px;top:1056.7px;width:0;height:0;border-left:4.200px solid transparent;border-right:4.200px solid transparent;border-bottom:5.800px solid #e51c23"></div>
<div class="rb" style="left:408.0px;top:600.7px;width:176.5px;background:#eff3fb"></div>
<div style="left:390.1px;top:600.7px;width:9.200px;height:9.200px;border:0.600px solid #e2e2e2;border-radius:50%"></div>
<div class="cd" style="left:384.3px;top:600.7px">02t</div>
<div class="nm" style="left:413.0px;top:600.7px">แขวงหิรัญรูจี เขตธนบุรี</div>
<div class="c o" style="left:584.1px;top:600.7px">52</div>
<div class="c o" style="left:640.8px;top:600.7px">66</div>
<div class="c o c3" style="left:697.8px;top:600.7px">76</div>
<div style="left:627.4px;top:605.6px;width:0;height:0;border-left:4.200px solid transparent;border-right:4.200px solid transparent;border-top:5.800px solid #1738e0"></div>
<div style="left:683.8px;top:605.0px;width:0;height:0;border-left:4.200px solid transparent;border-right:4.200px solid transparent;border-bottom:5.800px solid #e51c23"></div>
<div style="left:741.1px;top:605.0px;width:0;height:0;border-left:4.200px solid transparent;border-right:4.200px solid transparent;border-bottom:5.800px solid #e51c23"></div>
<div class="rb" style="left:408.0px;top:611.7px;width:176.5px;background:#eff3fb"></div>
<div style="left:390.1px;top:611.7px;width:9.200px;height:9.200px;border:0.600px solid #e2e2e2;border-radius:50%"></div>
<div class="cd" style="left:384.3px;top:611.7px">05t</div>
<div class="nm" style="left:413.0px;top:611.7px">แขวงบางนา เขตบางนา</div>
<div class="c y" style="left:584.1px;top:611.7px">46</div>
<div class="c y" style="left:640.8px;top:611.7px">49</div>
<div class="c o c3" style="left:697.8px;top:611.7px">64</div>
<div style="left:683.8px;top:616.0px;width:0;height:0;border-left:4.200px solid transparent;border-right:4.200px solid transparent;border-bottom:5.800px solid #e51c23"></div>
<div style="left:741.1px;top:616.0px;width:0;height:0;border-left:4.200px solid transparent;border-right:4.200px solid transparent;border-bottom:5.800px solid #e51c23"></div>
<div class="rb" style="left:408.0px;top:622.7px;width:176.5px;background:#eff3fb"></div>
<div style="left:390.1px;top:622.7px;width:9.200px;height:9.200px;border:0.600px solid #e2e2e2;border-radius:50%"></div>
<div class="cd" style="left:384.3px;top:622.7px">08t</div>
<div class="nm" style="left:413.0px;top:622.7px">ต.ทรงคนอง อ.พระประแดง จ.สมุทรปราการ</div>
<div class="c o" style="left:584.1px;top:622.7px">54</div>
<div class="c o" style="left:640.8px;top:622.7px">56</div>
<div class="c o c3" style="left:697.8px;top:622.7px">66</div>
<div style="left:627.4px;top:627.0px;width:0;height:0;border-left:4.200px solid transparent;border-right:4.200px solid transparent;border-bottom:5.800px solid #e51c23"></div>
<div style="left:683.8px;top:627.0px;width:0;height:0;border-left:4.200px solid transparent;border-right:4.200px solid transparent;border-bottom:5.800px solid #e51c23"></div>
<div style="left:741.1px;top:627.0px;width:0;height:0;border-left:4.200px solid transparent;border-right:4.200px solid transparent;border-bottom:5.800px solid #e51c23"></div>
<div class="rb" style="left:408.0px;top:633.7px;width:176.5px;background:#eff3fb"></div>
<div style="left:390.1px;top:633.7px;width:9.200px;height:9.200px;border:0.600px solid #e2e2e2;border-radius:50%"></div>
<div class="cd" style="left:384.3px;top:633.7px">10t</div>
<div class="nm" style="left:413.0px;top:633.7px">แขวงคลองจั่น เขตบางกะปิ</div>
<div class="c y" style="left:584.1px;top:633.7px">38</div>
<div class="c y" style="left:640.8px;top:633.7px">45</div>
<div class="c o c3" style="left:697.8px;top:633.7px">54</div>
<div style="left:627.4px;top:638.6px;width:0;height:0;border-left:4.200px solid transparent;border-right:4.200px solid transparent;border-top:5.800px solid #1738e0"></div>
<div style="left:683.8px;top:638.0px;width:0;height:0;border-left:4.200px solid transparent;border-right:4.200px solid transparent;border-bottom:5.800px solid #e51c23"></div>
<div style="left:741.1px;top:638.0px;width:0;height:0;border-left:4.200px solid transparent;border-right:4.200px solid transparent;border-bottom:5.800px solid #e51c23"></div>
<div class="rb" style="left:408.0px;top:644.8px;width:176.5px;background:#eff3fb"></div>
<div style="left:390.1px;top:644.8px;width:9.200px;height:9.200px;border:0.600px solid #e2e2e2;border-radius:50%"></div>
<div class="cd" style="left:384.3px;top:644.8px">11t</div>
<div class="nm" style="left:413.0px;top:644.8px">แขวงดินแดง เขตดินแดง</div>
<div class="c y" style="left:584.1px;top:644.8px">38</div>
<div class="c y" style="left:640.8px;top:644.8px">45</div>
<div class="c o c3" style="left:697.8px;top:644.8px">54</div>
<div style="left:627.4px;top:649.7px;width:0;height:0;border-left:4.200px solid transparent;border-right:4.200px solid transparent;border-top:5.800px solid #1738e0"></div>
<div style="left:683.8px;top:649.1px;width:0;height:0;border-left:4.200px solid transparent;border-right:4.200px solid transparent;border-bottom:5.800px solid #e51c23"></div>
<div style="left:741.1px;top:649.1px;width:0;height:0;border-left:4.200px solid transparent;border-right:4.200px solid transparent;border-bottom:5.800px solid #e51c23"></div>
<div class="rb" style="left:408.0px;top:655.8px;width:176.5px;background:#eff3fb"></div>
<div style="left:390.1px;top:655.8px;width:9.200px;height:9.200px;border:0.600px solid #e2e2e2;border-radius:50%"></div>
<div class="cd" style="left:384.3px;top:655.8px">12t</div>
<div class="nm" style="left:413.0px;top:655.8px">แขวงช่องนนทรี, เขตยานนาวา</div>
<div class="c y" style="left:584.1px;top:655.8px">43</div>
<div class="c o" style="left:640.8px;top:655.8px">56</div>
<div class="c o c3" style="left:697.8px;top:655.8px">60</div>
<div style="left:627.4px;top:660.7px;width:0;height:0;border-left:4.200px solid transparent;border-right:4.200px solid transparent;border-top:5.800px solid #1738e0"></div>
<div style="left:683.8px;top:660.1px;width:0;height:0;border-left:4.200px solid transparent;border-right:4.200px solid transparent;border-bottom:5.800px solid #e51c23"></div>
<div style="left:741.1px;top:660.1px;width:0;height:0;border-left:4.200px solid transparent;border-right:4.200px solid transparent;border-bottom:5.800px solid #e51c23"></div>
<div class="rb" style="left:408.0px;top:666.8px;width:176.5px;background:#eff3fb"></div>
<div style="left:390.1px;top:666.8px;width:9.200px;height:9.200px;border:0.600px solid #e2e2e2;border-radius:50%"></div>
<div class="cd" style="left:384.3px;top:666.8px">13t</div>
<div class="nm" style="left:413.0px;top:666.8px">ต.บางกรวย อ.บางกรวย จ.นนทบุรี</div>
<div class="c y" style="left:584.1px;top:666.8px">44</div>
<div class="c o" style="left:640.8px;top:666.8px">58</div>
<div class="c o c3" style="left:697.8px;top:666.8px">66</div>
<div style="left:627.4px;top:671.7px;width:0;height:0;border-left:4.200px solid transparent;border-right:4.200px solid transparent;border-top:5.800px solid #1738e0"></div>
<div style="left:683.8px;top:671.1px;width:0;height:0;border-left:4.200px solid transparent;border-right:4.200px solid transparent;border-bottom:5.800px solid #e51c23"></div>
<div style="left:741.1px;top:671.1px;width:0;height:0;border-left:4.200px solid transparent;border-right:4.200px solid transparent;border-bottom:5.800px solid #e51c23"></div>
<div class="rb" style="left:408.0px;top:677.8px;width:176.5px;background:#eff3fb"></div>
<div style="left:390.1px;top:677.8px;width:9.200px;height:9.200px;border:0.600px solid #e2e2e2;border-radius:50%"></div>
<div class="cd" style="left:384.3px;top:677.8px">14t</div>
<div class="nm" style="left:413.0px;top:677.8px">ต.อ้อมน้อย อ.กระทุ่มแบน จ.สมุทรสาคร</div>
<div class="c o" style="left:584.1px;top:677.8px">58</div>
<div class="c o" style="left:640.8px;top:677.8px">54</div>
<div class="c o c3" style="left:697.8px;top:677.8px">67</div>
<div style="left:683.8px;top:682.7px;width:0;height:0;border-left:4.200px solid transparent;border-right:4.200px solid transparent;border-top:5.800px solid #1738e0"></div>
<div style="left:741.1px;top:682.1px;width:0;height:0;border-left:4.200px solid transparent;border-right:4.200px solid transparent;border-bottom:5.800px solid #e51c23"></div>
<div class="rb" style="left:408.0px;top:688.8px;width:176.5px;background:#eff3fb"></div>
<div style="left:390.1px;top:688.8px;width:9.200px;height:9.200px;border:0.600px solid #e2e2e2;border-radius:50%"></div>
<div class="cd" style="left:384.3px;top:688.8px">16t</div>
<div class="nm" style="left:413.0px;top:688.8px">ต.บางโปรง อ.เมือง จ.สมุทรปราการ</div>
<div class="c o" style="left:584.1px;top:688.8px">58</div>
<div class="c y" style="left:640.8px;top:688.8px">47</div>
<div class="c o c3" style="left:697.8px;top:688.8px">56</div>
<div style="left:627.4px;top:693.1px;width:0;height:0;border-left:4.200px solid transparent;border-right:4.200px solid transparent;border-bottom:5.800px solid #e51c23"></div>
<div style="left:683.8px;top:693.7px;width:0;height:0;border-left:4.200px solid transparent;border-right:4.200px solid transparent;border-top:5.800px solid #1738e0"></div>
<div style="left:741.1px;top:693.1px;width:0;height:0;border-left:4.200px solid transparent;border-right:4.200px solid transparent;border-bottom:5.800px solid #e51c23"></div>
<div class="rb" style="left:408.0px;top:699.8px;width:176.5px;background:#eff3fb"></div>
<div style="left:390.1px;top:699.8px;width:9.200px;height:9.200px;border:0.600px solid #e2e2e2;border-radius:50%"></div>
<div class="cd" style="left:384.3px;top:699.8px">17t</div>
<div class="nm" style="left:413.0px;top:699.8px">ต.ตลาด อ.พระประแดง จ.สมุทรปราการ</div>
<div class="c y" style="left:584.1px;top:699.8px">48</div>
<div class="c y" style="left:640.8px;top:699.8px">44</div>
<div class="c o c3" style="left:697.8px;top:699.8px">54</div>
<div style="left:627.4px;top:704.1px;width:0;height:0;border-left:4.200px solid transparent;border-right:4.200px solid transparent;border-bottom:5.800px solid #e51c23"></div>
<div style="left:683.8px;top:704.7px;width:0;height:0;border-left:4.200px solid transparent;border-right:4.200px solid transparent;border-top:5.800px solid #1738e0"></div>
<div style="left:741.1px;top:704.1px;width:0;height:0;border-left:4.200px solid transparent;border-right:4.200px solid transparent;border-bottom:5.800px solid #e51c23"></div>
<div class="rb" style="left:408.0px;top:710.9px;width:176.5px;background:#eff3fb"></div>
<div style="left:390.1px;top:710.9px;width:9.200px;height:9.200px;border:0.600px solid #e2e2e2;border-radius:50%"></div>
<div class="cd" style="left:384.3px;top:710.9px">18t</div>
<div class="nm" style="left:413.0px;top:710.9px">ต.ปากน้ำ อ.เมือง จ.สมุทรปราการ</div>
<div class="c o" style="left:584.1px;top:710.9px">74</div>
<div class="c o" style="left:640.8px;top:710.9px">72</div>
<div class="c o c3" style="left:697.8px;top:710.9px">89</div>
<div style="left:627.4px;top:715.2px;width:0;height:0;border-left:4.200px solid transparent;border-right:4.200px solid transparent;border-bottom:5.800px solid #e51c23"></div>
<div style="left:683.8px;top:715.8px;width:0;height:0;border-left:4.200px solid transparent;border-right:4.200px solid transparent;border-top:5.800px solid #1738e0"></div>
<div style="left:741.1px;top:715.2px;width:0;height:0;border-left:4.200px solid transparent;border-right:4.200px solid transparent;border-bottom:5.800px solid #e51c23"></div>
<div class="rb" style="left:408.0px;top:721.9px;width:176.5px;background:#eff3fb"></div>
<div style="left:390.1px;top:721.9px;width:9.200px;height:9.200px;border:0.600px solid #e2e2e2;border-radius:50%"></div>
<div class="cd" style="left:384.3px;top:721.9px">19t</div>
<div class="nm" style="left:413.0px;top:721.9px">ต.บางเสาธง อ.บางเสาธง จ.สมุทรปราการ</div>
<div class="c y" style="left:584.1px;top:721.9px">43</div>
<div class="c gn" style="left:640.8px;top:721.9px">36</div>
<div class="c gn c3" style="left:697.8px;top:721.9px">37</div>
<div style="left:627.4px;top:726.2px;width:0;height:0;border-left:4.200px solid transparent;border-right:4.200px solid transparent;border-bottom:5.800px solid #e51c23"></div>
<div style="left:683.8px;top:726.8px;width:0;height:0;border-left:4.200px solid transparent;border-right:4.200px solid transparent;border-top:5.800px solid #1738e0"></div>
<div style="left:741.1px;top:726.2px;width:0;height:0;border-left:4.200px solid transparent;border-right:4.200px solid transparent;border-bottom:5.800px solid #e51c23"></div>
<div class="rb" style="left:408.0px;top:732.9px;width:176.5px;background:#eff3fb"></div>
<div style="left:390.1px;top:732.9px;width:9.200px;height:9.200px;border:0.600px solid #e2e2e2;border-radius:50%"></div>
<div class="cd" style="left:384.3px;top:732.9px">20t</div>
<div class="nm" style="left:413.0px;top:732.9px">ต.คลองหนึ่ง อ.คลองหลวง จ.ปทุมธานี</div>
<div class="c y" style="left:584.1px;top:732.9px">43</div>
<div class="c y" style="left:640.8px;top:732.9px">47</div>
<div class="c o c3" style="left:697.8px;top:732.9px">61</div>
<div style="left:627.4px;top:737.8px;width:0;height:0;border-left:4.200px solid transparent;border-right:4.200px solid transparent;border-top:5.800px solid #1738e0"></div>
<div style="left:683.8px;top:737.2px;width:0;height:0;border-left:4.200px solid transparent;border-right:4.200px solid transparent;border-bottom:5.800px solid #e51c23"></div>
<div style="left:741.1px;top:737.2px;width:0;height:0;border-left:4.200px solid transparent;border-right:4.200px solid transparent;border-bottom:5.800px solid #e51c23"></div>
<div class="rb" style="left:408.0px;top:743.9px;width:176.5px;background:#eff3fb"></div>
<div style="left:390.1px;top:743.9px;width:9.200px;height:9.200px;border:0.600px solid #e2e2e2;border-radius:50%"></div>
<div class="cd" style="left:384.3px;top:743.9px">22t</div>
<div class="nm" style="left:413.0px;top:743.9px">ต.บางพูด อ.ปากเกร็ด, นนทบุรี</div>
<div class="c y" style="left:584.1px;top:743.9px">39</div>
<div class="c y" style="left:640.8px;top:743.9px">40</div>
<div class="c o c3" style="left:697.8px;top:743.9px">53</div>
<div style="left:627.4px;top:748.8px;width:0;height:0;border-left:4.200px solid transparent;border-right:4.200px solid transparent;border-top:5.800px solid #1738e0"></div>
<div style="left:683.8px;top:748.2px;width:0;height:0;border-left:4.200px solid transparent;border-right:4.200px solid transparent;border-bottom:5.800px solid #e51c23"></div>
<div style="left:741.1px;top:748.2px;width:0;height:0;border-left:4.200px solid transparent;border-right:4.200px solid transparent;border-bottom:5.800px solid #e51c23"></div>
<div class="rb" style="left:408.0px;top:754.9px;width:176.5px;background:#eff3fb"></div>
<div style="left:390.1px;top:754.9px;width:9.200px;height:9.200px;border:0.600px solid #e2e2e2;border-radius:50%"></div>
<div class="cd" style="left:384.3px;top:754.9px">27t</div>
<div class="nm" style="left:413.0px;top:754.9px">ต.มหาชัย อ.เมือง, สมุทรสาคร</div>
<div class="c o" style="left:584.1px;top:754.9px">71</div>
<div class="c y" style="left:640.8px;top:754.9px">49</div>
<div class="c o c3" style="left:697.8px;top:754.9px">68</div>
<div style="left:683.8px;top:759.8px;width:0;height:0;border-left:4.200px solid transparent;border-right:4.200px solid transparent;border-top:5.800px solid #1738e0"></div>
<div style="left:741.1px;top:759.2px;width:0;height:0;border-left:4.200px solid transparent;border-right:4.200px solid transparent;border-bottom:5.800px solid #e51c23"></div>
<div class="rb" style="left:408.0px;top:765.9px;width:176.5px;background:#eff3fb"></div>
<div style="left:390.1px;top:765.9px;width:9.200px;height:9.200px;border:0.600px solid #e2e2e2;border-radius:50%"></div>
<div class="cd" style="left:384.3px;top:765.9px">59t</div>
<div class="nm" style="left:413.0px;top:765.9px">แขวงพญาไท เขตพญาไท</div>
<div class="c y" style="left:584.1px;top:765.9px">41</div>
<div class="c y" style="left:640.8px;top:765.9px">48</div>
<div class="c o c3" style="left:697.8px;top:765.9px">53</div>
<div style="left:627.4px;top:770.8px;width:0;height:0;border-left:4.200px solid transparent;border-right:4.200px solid transparent;border-top:5.800px solid #1738e0"></div>
<div style="left:683.8px;top:770.2px;width:0;height:0;border-left:4.200px solid transparent;border-right:4.200px solid transparent;border-bottom:5.800px solid #e51c23"></div>
<div style="left:741.1px;top:770.2px;width:0;height:0;border-left:4.200px solid transparent;border-right:4.200px solid transparent;border-bottom:5.800px solid #e51c23"></div>
<div class="rb" style="left:408.0px;top:777.0px;width:176.5px;background:#eff3fb"></div>
<div style="left:390.1px;top:777.0px;width:9.200px;height:9.200px;border:0.600px solid #e2e2e2;border-radius:50%"></div>
<div class="cd" style="left:384.3px;top:777.0px">61t</div>
<div class="nm" style="left:413.0px;top:777.0px">แขวงพลับพลา เขตวังทองหลาง</div>
<div class="c gn" style="left:584.1px;top:777.0px">37</div>
<div class="c y" style="left:640.8px;top:777.0px">43</div>
<div class="c o c3" style="left:697.8px;top:777.0px">54</div>
<div style="left:627.4px;top:781.9px;width:0;height:0;border-left:4.200px solid transparent;border-right:4.200px solid transparent;border-top:5.800px solid #1738e0"></div>
<div style="left:683.8px;top:781.3px;width:0;height:0;border-left:4.200px solid transparent;border-right:4.200px solid transparent;border-bottom:5.800px solid #e51c23"></div>
<div style="left:741.1px;top:781.3px;width:0;height:0;border-left:4.200px solid transparent;border-right:4.200px solid transparent;border-bottom:5.800px solid #e51c23"></div>
<div class="rb" style="left:408.0px;top:788.0px;width:176.5px;background:#eff3fb"></div>
<div style="left:390.1px;top:788.0px;width:9.200px;height:9.200px;border:0.600px solid #e2e2e2;border-radius:50%"></div>
<div class="cd" style="left:384.3px;top:788.0px">81t</div>
<div class="nm" style="left:413.0px;top:788.0px">ต.นครปฐม อ.เมืองนครปฐม, นครปฐม</div>
<div class="c y" style="left:584.1px;top:788.0px">43</div>
<div class="c y" style="left:640.8px;top:788.0px">39</div>
<div class="c y c3" style="left:697.8px;top:788.0px">49</div>
<div style="left:627.4px;top:792.9px;width:0;height:0;border-left:4.200px solid transparent;border-right:4.200px solid transparent;border-top:5.800px solid #1738e0"></div>
<div style="left:683.8px;top:792.9px;width:0;height:0;border-left:4.200px solid transparent;border-right:4.200px solid transparent;border-top:5.800px solid #1738e0"></div>
<div style="left:741.1px;top:792.3px;width:0;height:0;border-left:4.200px solid transparent;border-right:4.200px solid transparent;border-bottom:5.800px solid #e51c23"></div>
<div class="rb" style="left:408.0px;top:799.0px;width:176.5px;background:#eff3fb"></div>
<div style="left:390.1px;top:799.0px;width:9.200px;height:9.200px;border:0.600px solid #e2e2e2;border-radius:50%"></div>
<div class="cd" style="left:384.3px;top:799.0px">b67</div>
<div class="nm" style="left:413.0px;top:799.0px">แขวงทุ่งวัดดอน เขตสาทร</div>
<div class="c y" style="left:584.1px;top:799.0px">47</div>
<div class="c o" style="left:640.8px;top:799.0px">64</div>
<div class="c o c3" style="left:697.8px;top:799.0px">80</div>
<div style="left:627.4px;top:803.9px;width:0;height:0;border-left:4.200px solid transparent;border-right:4.200px solid transparent;border-top:5.800px solid #1738e0"></div>
<div style="left:683.8px;top:803.3px;width:0;height:0;border-left:4.200px solid transparent;border-right:4.200px solid transparent;border-bottom:5.800px solid #e51c23"></div>
<div style="left:741.1px;top:803.3px;width:0;height:0;border-left:4.200px solid transparent;border-right:4.200px solid transparent;border-bottom:5.800px solid #e51c23"></div>
<div class="rb" style="left:408.0px;top:810.0px;width:176.5px;background:#eff3fb"></div>
<div style="left:390.1px;top:810.0px;width:9.200px;height:9.200px;border:0.600px solid #e2e2e2;border-radius:50%"></div>
<div class="cd" style="left:384.3px;top:810.0px">b74</div>
<div class="nm" style="left:413.0px;top:810.0px">เขตดอนเมือง</div>
<div class="c y" style="left:584.1px;top:810.0px">49</div>
<div class="c o" style="left:640.8px;top:810.0px">60</div>
<div class="c o c3" style="left:697.8px;top:810.0px">84</div>
<div style="left:627.4px;top:814.9px;width:0;height:0;border-left:4.200px solid transparent;border-right:4.200px solid transparent;border-top:5.800px solid #1738e0"></div>
<div style="left:683.8px;top:814.3px;width:0;height:0;border-left:4.200px solid transparent;border-right:4.200px solid transparent;border-bottom:5.800px solid #e51c23"></div>
<div style="left:741.1px;top:814.3px;width:0;height:0;border-left:4.200px solid transparent;border-right:4.200px solid transparent;border-bottom:5.800px solid #e51c23"></div>
<div class="rb" style="left:408.0px;top:821.0px;width:176.5px;background:#eff3fb"></div>
<div style="left:390.1px;top:821.0px;width:9.200px;height:9.200px;border:0.600px solid #e2e2e2;border-radius:50%"></div>
<div class="cd" style="left:384.3px;top:821.0px">b77</div>
<div class="nm" style="left:413.0px;top:821.0px">บริเวณแยกสวนสยาม-รามอินทรา เขตคันนายาว</div>
<div class="c y" style="left:584.1px;top:821.0px">41</div>
<div class="c o" style="left:640.8px;top:821.0px">61</div>
<div class="c o c3" style="left:697.8px;top:821.0px">75</div>
<div style="left:627.4px;top:825.9px;width:0;height:0;border-left:4.200px solid transparent;border-right:4.200px solid transparent;border-top:5.800px solid #1738e0"></div>
<div style="left:683.8px;top:825.3px;width:0;height:0;border-left:4.200px solid transparent;border-right:4.200px solid transparent;border-bottom:5.800px solid #e51c23"></div>
<div style="left:741.1px;top:825.3px;width:0;height:0;border-left:4.200px solid transparent;border-right:4.200px solid transparent;border-bottom:5.800px solid #e51c23"></div>
<div class="rb" style="left:408.0px;top:832.0px;width:176.5px;background:#eff3fb"></div>
<div style="left:390.1px;top:832.0px;width:9.200px;height:9.200px;border:0.600px solid #e2e2e2;border-radius:50%"></div>
<div class="cd" style="left:384.3px;top:832.0px">b93</div>
<div class="nm" style="left:413.0px;top:832.0px">เขตห้วยขวาง</div>
<div class="c gn" style="left:584.1px;top:832.0px">33</div>
<div class="c o" style="left:640.8px;top:832.0px">57</div>
<div class="c o c3" style="left:697.8px;top:832.0px">75</div>
<div style="left:627.4px;top:836.9px;width:0;height:0;border-left:4.200px solid transparent;border-right:4.200px solid transparent;border-top:5.800px solid #1738e0"></div>
<div style="left:683.8px;top:836.3px;width:0;height:0;border-left:4.200px solid transparent;border-right:4.200px solid transparent;border-bottom:5.800px solid #e51c23"></div>
<div style="left:741.1px;top:836.3px;width:0;height:0;border-left:4.200px solid transparent;border-right:4.200px solid transparent;border-bottom:5.800px solid #e51c23"></div>
<div class="rb" style="left:408.0px;top:843.1px;width:176.5px;background:#eff3fb"></div>
<div style="left:390.1px;top:843.1px;width:9.200px;height:9.200px;border:0.600px solid #e2e2e2;border-radius:50%"></div>
<div class="cd" style="left:384.3px;top:843.1px">b94</div>
<div class="nm" style="left:413.0px;top:843.1px">แขวงคลองเตย เขตคลองเตย</div>
<div class="c o" style="left:584.1px;top:843.1px">56</div>
<div class="c o" style="left:640.8px;top:843.1px">67</div>
<div class="c o c3" style="left:697.8px;top:843.1px">86</div>
<div style="left:627.4px;top:847.4px;width:0;height:0;border-left:4.200px solid transparent;border-right:4.200px solid transparent;border-bottom:5.800px solid #e51c23"></div>
<div style="left:683.8px;top:847.4px;width:0;height:0;border-left:4.200px solid transparent;border-right:4.200px solid transparent;border-bottom:5.800px solid #e51c23"></div>
<div style="left:741.1px;top:847.4px;width:0;height:0;border-left:4.200px solid transparent;border-right:4.200px solid transparent;border-bottom:5.800px solid #e51c23"></div>
<div class="rb" style="left:408.0px;top:854.1px;width:176.5px;background:#eff3fb"></div>
<div style="left:390.1px;top:854.1px;width:9.200px;height:9.200px;border:0.600px solid #e2e2e2;border-radius:50%"></div>
<div class="cd" style="left:384.3px;top:854.1px">b95</div>
<div class="nm" style="left:413.0px;top:854.1px">แขวงบางซื่อ เขตบางซื่อ</div>
<div class="c y" style="left:584.1px;top:854.1px">41</div>
<div class="c o" style="left:640.8px;top:854.1px">67</div>
<div class="c o c3" style="left:697.8px;top:854.1px">86</div>
<div style="left:627.4px;top:859.0px;width:0;height:0;border-left:4.200px solid transparent;border-right:4.200px solid transparent;border-top:5.800px solid #1738e0"></div>
<div style="left:683.8px;top:858.4px;width:0;height:0;border-left:4.200px solid transparent;border-right:4.200px solid transparent;border-bottom:5.800px solid #e51c23"></div>
<div style="left:741.1px;top:858.4px;width:0;height:0;border-left:4.200px solid transparent;border-right:4.200px solid transparent;border-bottom:5.800px solid #e51c23"></div>
<div class="rb" style="left:408.0px;top:865.1px;width:176.5px;background:#eff3fb"></div>
<div style="left:390.1px;top:865.1px;width:9.200px;height:9.200px;border:0.600px solid #e2e2e2;border-radius:50%"></div>
<div class="cd" style="left:384.3px;top:865.1px">b96</div>
<div class="nm" style="left:413.0px;top:865.1px">เขตลาดพร้าว</div>
<div class="c gn" style="left:584.1px;top:865.1px">37</div>
<div class="c o" style="left:640.8px;top:865.1px">59</div>
<div class="c o c3" style="left:697.8px;top:865.1px">73</div>
<div style="left:627.4px;top:870.0px;width:0;height:0;border-left:4.200px solid transparent;border-right:4.200px solid transparent;border-top:5.800px solid #1738e0"></div>
<div style="left:683.8px;top:869.4px;width:0;height:0;border-left:4.200px solid transparent;border-right:4.200px solid transparent;border-bottom:5.800px solid #e51c23"></div>
<div style="left:741.1px;top:869.4px;width:0;height:0;border-left:4.200px solid transparent;border-right:4.200px solid transparent;border-bottom:5.800px solid #e51c23"></div>
<div class="rb" style="left:408.0px;top:876.1px;width:176.5px;background:#eff3fb"></div>
<div style="left:390.1px;top:876.1px;width:9.200px;height:9.200px;border:0.600px solid #e2e2e2;border-radius:50%"></div>
<div class="cd" style="left:384.3px;top:876.1px">b97</div>
<div class="nm" style="left:413.0px;top:876.1px">แขวงทุ่งสองห้อง เขตหลักสี่</div>
<div class="c y" style="left:584.1px;top:876.1px">50</div>
<div class="c o" style="left:640.8px;top:876.1px">62</div>
<div class="c o c3" style="left:697.8px;top:876.1px">86</div>
<div style="left:627.4px;top:881.0px;width:0;height:0;border-left:4.200px solid transparent;border-right:4.200px solid transparent;border-top:5.800px solid #1738e0"></div>
<div style="left:683.8px;top:880.4px;width:0;height:0;border-left:4.200px solid transparent;border-right:4.200px solid transparent;border-bottom:5.800px solid #e51c23"></div>
<div style="left:741.1px;top:880.4px;width:0;height:0;border-left:4.200px solid transparent;border-right:4.200px solid transparent;border-bottom:5.800px solid #e51c23"></div>
<div class="rb" style="left:408.0px;top:887.1px;width:176.5px;background:#eff3fb"></div>
<div style="left:390.1px;top:887.1px;width:9.200px;height:9.200px;border:0.600px solid #e2e2e2;border-radius:50%"></div>
<div class="cd" style="left:384.3px;top:887.1px">b99</div>
<div class="nm" style="left:413.0px;top:887.1px">เขตสะพานสูง</div>
<div class="c gn" style="left:584.1px;top:887.1px">36</div>
<div class="c o" style="left:640.8px;top:887.1px">53</div>
<div class="c o c3" style="left:697.8px;top:887.1px">62</div>
<div style="left:627.4px;top:892.0px;width:0;height:0;border-left:4.200px solid transparent;border-right:4.200px solid transparent;border-top:5.800px solid #1738e0"></div>
<div style="left:683.8px;top:891.4px;width:0;height:0;border-left:4.200px solid transparent;border-right:4.200px solid transparent;border-bottom:5.800px solid #e51c23"></div>
<div style="left:741.1px;top:891.4px;width:0;height:0;border-left:4.200px solid transparent;border-right:4.200px solid transparent;border-bottom:5.800px solid #e51c23"></div>
<div class="rb" style="left:408.0px;top:898.1px;width:176.5px;background:#eff3fb"></div>
<div style="left:390.1px;top:898.1px;width:9.200px;height:9.200px;border:0.600px solid #e2e2e2;border-radius:50%"></div>
<div class="cd" style="left:384.3px;top:898.1px">b100</div>
<div class="nm" style="left:413.0px;top:898.1px">แขวงคลองกุ่ม เขตบึงกุ่ม</div>
<div class="c y" style="left:584.1px;top:898.1px">48</div>
<div class="c o" style="left:640.8px;top:898.1px">73</div>
<div class="c o c3" style="left:697.8px;top:898.1px">82</div>
<div style="left:627.4px;top:903.0px;width:0;height:0;border-left:4.200px solid transparent;border-right:4.200px solid transparent;border-top:5.800px solid #1738e0"></div>
<div style="left:683.8px;top:902.4px;width:0;height:0;border-left:4.200px solid transparent;border-right:4.200px solid transparent;border-bottom:5.800px solid #e51c23"></div>
<div style="left:741.1px;top:902.4px;width:0;height:0;border-left:4.200px solid transparent;border-right:4.200px solid transparent;border-bottom:5.800px solid #e51c23"></div>
<div class="rb" style="left:408.0px;top:909.1px;width:176.5px;background:#eff3fb"></div>
<div style="left:390.1px;top:909.1px;width:9.200px;height:9.200px;border:0.600px solid #e2e2e2;border-radius:50%"></div>
<div class="cd" style="left:384.3px;top:909.1px">b101</div>
<div class="nm" style="left:413.0px;top:909.1px">เขตคลองสามวา</div>
<div class="c y" style="left:584.1px;top:909.1px">45</div>
<div class="c o" style="left:640.8px;top:909.1px">57</div>
<div class="c o c3" style="left:697.8px;top:909.1px">71</div>
<div style="left:627.4px;top:914.0px;width:0;height:0;border-left:4.200px solid transparent;border-right:4.200px solid transparent;border-top:5.800px solid #1738e0"></div>
<div style="left:683.8px;top:913.4px;width:0;height:0;border-left:4.200px solid transparent;border-right:4.200px solid transparent;border-bottom:5.800px solid #e51c23"></div>
<div style="left:741.1px;top:913.4px;width:0;height:0;border-left:4.200px solid transparent;border-right:4.200px solid transparent;border-bottom:5.800px solid #e51c23"></div>
<div class="rb" style="left:408.0px;top:920.2px;width:176.5px;background:#eff3fb"></div>
<div style="left:390.1px;top:920.2px;width:9.200px;height:9.200px;border:0.600px solid #e2e2e2;border-radius:50%"></div>
<div class="cd" style="left:384.3px;top:920.2px">b102</div>
<div class="nm" style="left:413.0px;top:920.2px">เขตจอมทอง</div>
<div class="c o" style="left:584.1px;top:920.2px">60</div>
<div class="c o" style="left:640.8px;top:920.2px">71</div>
<div class="c o c3" style="left:697.8px;top:920.2px">78</div>
<div style="left:627.4px;top:924.5px;width:0;height:0;border-left:4.200px solid transparent;border-right:4.200px solid transparent;border-bottom:5.800px solid #e51c23"></div>
<div style="left:683.8px;top:924.5px;width:0;height:0;border-left:4.200px solid transparent;border-right:4.200px solid transparent;border-bottom:5.800px solid #e51c23"></div>
<div style="left:741.1px;top:924.5px;width:0;height:0;border-left:4.200px solid transparent;border-right:4.200px solid transparent;border-bottom:5.800px solid #e51c23"></div>
<div class="rb" style="left:408.0px;top:931.2px;width:176.5px;background:#eff3fb"></div>
<div style="left:390.1px;top:931.2px;width:9.200px;height:9.200px;border:0.600px solid #e2e2e2;border-radius:50%"></div>
<div class="cd" style="left:384.3px;top:931.2px">b106</div>
<div class="nm" style="left:413.0px;top:931.2px">เขตบางแค</div>
<div class="c o" style="left:584.1px;top:931.2px">63</div>
<div class="c o" style="left:640.8px;top:931.2px">59</div>
<div class="c o c3" style="left:697.8px;top:931.2px">73</div>
<div style="left:627.4px;top:935.5px;width:0;height:0;border-left:4.200px solid transparent;border-right:4.200px solid transparent;border-bottom:5.800px solid #e51c23"></div>
<div style="left:683.8px;top:936.1px;width:0;height:0;border-left:4.200px solid transparent;border-right:4.200px solid transparent;border-top:5.800px solid #1738e0"></div>
<div style="left:741.1px;top:935.5px;width:0;height:0;border-left:4.200px solid transparent;border-right:4.200px solid transparent;border-bottom:5.800px solid #e51c23"></div>
<div class="fn" style="left:30px;top:1068.5px">หมายเหตุ 1. N/A : ไม่มีข้อมูล</div>
<div class="fn" style="left:57px;top:1080.300px;font-size:5.950px">2. เป็นการรายงานข้อมูลอัตโนมัติ การนำไปใช้ต้องศึกษาก่อนเผยแพร่ความรับผิดชอบของผู้นำไปใช้</div>
<div style="left:383.5px;top:948.2px;width:374.5px;height:98.500px;border:1px solid #666"></div>
<div class="adv" id="advt" style="left:389px;top:957.800px;font-size:9.870px;font-weight:bold;color:#111">คำแนะนำจากกระทรวงสาธารณสุข</div>
<div class="adv" id="a0" style="left:406.5px;top:977.5px">พื้นที่สีแดง : ประชาชนทุกคนควรหลีกเลี่ยงกิจกรรมกลางแจ้ง/ใช้อุปกรณ์ป้องกันตนเอง หากมีอาการทางสุขภาพ</div>
<div class="adv" id="a1" style="left:406.5px;top:991.2px">ควรปรึกษาแพทย์</div>
<div class="adv" id="a2" style="left:406.5px;top:1004.9px">พื้นที่สีส้ม : ประชาชนทั่วไปควรเฝ้าระวังสุขภาพ ควรลดระยะเวลาการทำกิจกรรมกลางแจ้ง ประชาชนกลุ่มเสี่ยง</div>
<div class="adv" id="a3" style="left:406.5px;top:1018.6px">ควรลดระยะเวลาการทำกิจกรรมกลางแจ้ง/ใช้อุปกรณ์ป้องกันตนเองหากมีความจำเป็น ถ้ามีอาการทางสุขภาพ</div>
<div class="adv" id="a4" style="left:406.5px;top:1032.3px">ควรปรึกษาแพทย์</div>
<div style="left:383.5px;top:1050.800px;width:374.5px;height:35.500px;border:1px solid #666"></div>
<div class="red" id="r0" style="left:388px;top:1056.500px">ขอความร่วมมือประชาชนงดการเผาในที่โล่ง ลดใช้รถยนต์ส่วนบุคคล เปลี่ยนมาใช้ระบบขนส่งสาธารณะ</div>
<div class="red" id="r1" style="left:388px;top:1072.800px">และขอให้หมั่นบำรุงรักษาเครื่องยนต์ไม่ให้ก่อควันดำ เพื่อลดการเพิ่มขึ้นของฝุ่นละออง</div>
<div style="left:3.5px;top:43.600px;width:54px;text-align:center;font-size:6.800px;font-weight:bold;color:#0e2440">กรมควบคุมมลพิษ</div>
<div style="left:1.5px;top:52.200px;width:58px;text-align:center;font-size:3.100px;font-weight:bold;color:#234;letter-spacing:0">POLLUTION CONTROL DEPARTMENT</div>
</div></body></html>
